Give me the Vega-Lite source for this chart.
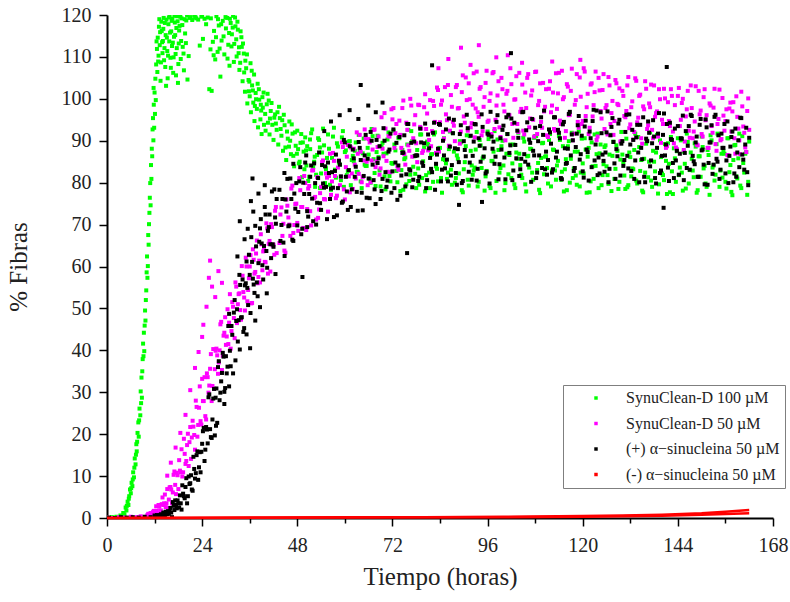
{
  "$schema": "https://vega.github.io/schema/vega-lite/v6.json",
  "width": 666,
  "height": 503,
  "autosize": {"type": "none"},
  "padding": {"left": 107, "top": 15, "right": 17, "bottom": 84},
  "config": {"view": {"stroke": null}, "font": "Liberation Serif"},
  "datasets": {
    "pts": [
      {"s":"g","t":0.0,"y":0.1},{"s":"g","t":0.6,"y":0.0},{"s":"g","t":1.2,"y":0.2},{"s":"g","t":1.8,"y":0.1},{"s":"g","t":2.4,"y":0.3},{"s":"g","t":3.0,"y":0.2},{"s":"g","t":3.4,"y":0.6},{"s":"g","t":3.8,"y":0.4},{"s":"g","t":4.1,"y":1.2},{"s":"g","t":4.4,"y":0.9},
      {"s":"g","t":4.7,"y":2.5},{"s":"g","t":4.9,"y":1.8},{"s":"g","t":5.2,"y":3.9},{"s":"g","t":5.4,"y":3.1},{"s":"g","t":5.6,"y":5.2},{"s":"g","t":5.8,"y":6.8},{"s":"g","t":6.0,"y":5.9},{"s":"g","t":6.2,"y":8.4},{"s":"g","t":6.4,"y":7.6},{"s":"g","t":6.6,"y":10.9},
      {"s":"g","t":6.8,"y":9.7},{"s":"g","t":7.0,"y":14.2},{"s":"g","t":7.2,"y":12.8},{"s":"g","t":7.4,"y":17.6},{"s":"g","t":7.5,"y":15.9},{"s":"g","t":7.7,"y":20.3},{"s":"g","t":7.9,"y":22.8},{"s":"g","t":8.0,"y":19.4},{"s":"g","t":8.2,"y":26.1},{"s":"g","t":8.4,"y":24.5},
      {"s":"g","t":8.5,"y":30.2},{"s":"g","t":8.7,"y":33.5},{"s":"g","t":8.8,"y":28.7},{"s":"g","t":9.0,"y":37.9},{"s":"g","t":9.1,"y":41.6},{"s":"g","t":9.3,"y":44.2},{"s":"g","t":9.4,"y":39.8},{"s":"g","t":9.6,"y":49.5},{"s":"g","t":9.7,"y":47.1},{"s":"g","t":9.9,"y":54.3},
      {"s":"g","t":10.0,"y":58.6},{"s":"g","t":10.1,"y":62.4},{"s":"g","t":10.3,"y":60.1},{"s":"g","t":10.4,"y":67.5},{"s":"g","t":10.5,"y":65.2},{"s":"g","t":10.7,"y":72.8},{"s":"g","t":10.8,"y":76.4},{"s":"g","t":10.9,"y":79.9},{"s":"g","t":11.0,"y":74.6},{"s":"g","t":11.1,"y":84.2},
      {"s":"g","t":11.3,"y":88.1},{"s":"g","t":11.4,"y":86.3},{"s":"g","t":11.5,"y":92.7},{"s":"g","t":11.6,"y":95.4},{"s":"g","t":11.8,"y":98.6},{"s":"g","t":11.9,"y":93.1},{"s":"g","t":12.0,"y":101.5},{"s":"g","t":12.2,"y":104.8},{"s":"g","t":12.3,"y":99.7},{"s":"g","t":12.4,"y":108.2},
      {"s":"g","t":12.6,"y":111.9},{"s":"g","t":12.7,"y":106.4},{"s":"g","t":12.8,"y":114.6},{"s":"g","t":13.0,"y":110.3},{"s":"g","t":13.1,"y":117.2},{"s":"g","t":13.3,"y":112.8},{"s":"g","t":13.4,"y":115.9},{"s":"g","t":13.6,"y":108.7},{"s":"g","t":13.7,"y":118.4},{"s":"g","t":13.9,"y":113.5},
      {"s":"g","t":14.0,"y":110.9},{"s":"g","t":14.2,"y":116.7},{"s":"g","t":14.3,"y":119.3},{"s":"g","t":14.5,"y":112.1},{"s":"g","t":14.7,"y":107.6},{"s":"g","t":14.8,"y":115.2},{"s":"g","t":15.0,"y":118.9},{"s":"g","t":15.2,"y":111.4},{"s":"g","t":15.3,"y":104.9},{"s":"g","t":15.5,"y":117.8},
      {"s":"g","t":15.7,"y":113.7},{"s":"g","t":15.8,"y":119.6},{"s":"g","t":16.0,"y":109.8},{"s":"g","t":16.2,"y":116.1},{"s":"g","t":16.4,"y":112.6},{"s":"g","t":16.5,"y":119.1},{"s":"g","t":16.7,"y":106.2},{"s":"g","t":16.9,"y":114.8},{"s":"g","t":17.1,"y":118.2},{"s":"g","t":17.3,"y":110.7},
      {"s":"g","t":17.5,"y":116.9},{"s":"g","t":17.7,"y":119.7},{"s":"g","t":17.9,"y":103.8},{"s":"g","t":18.1,"y":113.2},{"s":"g","t":18.3,"y":117.4},{"s":"g","t":18.6,"y":109.5},{"s":"g","t":18.8,"y":119.2},{"s":"g","t":19.1,"y":112.4},{"s":"g","t":19.4,"y":106.8},{"s":"g","t":19.7,"y":115.6},
      {"s":"g","t":20.0,"y":118.7},{"s":"g","t":20.3,"y":104.6},{"s":"g","t":20.6,"y":110.2},{"s":"g","t":21.0,"y":119.5},{"s":"g","t":21.5,"y":118.8},{"s":"g","t":22.0,"y":119.8},{"s":"g","t":22.5,"y":119.2},{"s":"g","t":23.0,"y":118.9},{"s":"g","t":23.4,"y":112.7},{"s":"g","t":23.8,"y":119.6},
      {"s":"g","t":24.2,"y":114.3},{"s":"g","t":24.6,"y":119.1},{"s":"g","t":25.0,"y":117.8},{"s":"g","t":25.4,"y":119.4},{"s":"g","t":25.8,"y":102.3},{"s":"g","t":26.1,"y":111.8},{"s":"g","t":26.4,"y":101.9},{"s":"g","t":26.7,"y":113.6},{"s":"g","t":27.0,"y":116.2},{"s":"g","t":27.3,"y":109.4},
      {"s":"g","t":27.6,"y":119.7},{"s":"g","t":27.9,"y":111.2},{"s":"g","t":28.2,"y":117.5},{"s":"g","t":28.6,"y":105.3},{"s":"g","t":28.9,"y":113.9},{"s":"g","t":29.2,"y":118.6},{"s":"g","t":29.6,"y":110.6},{"s":"g","t":30.0,"y":116.8},{"s":"g","t":30.3,"y":119.3},{"s":"g","t":30.6,"y":112.9},
      {"s":"g","t":30.9,"y":107.9},{"s":"g","t":31.2,"y":118.1},{"s":"g","t":31.5,"y":115.4},{"s":"g","t":31.8,"y":119.8},{"s":"g","t":32.1,"y":113.1},{"s":"g","t":32.4,"y":117.3},{"s":"g","t":32.7,"y":110.1},{"s":"g","t":33.0,"y":116.5},{"s":"g","t":33.3,"y":112.3},{"s":"g","t":33.6,"y":108.6},
      {"s":"g","t":33.9,"y":114.7},{"s":"g","t":34.2,"y":104.2},{"s":"g","t":34.5,"y":110.8},{"s":"g","t":34.8,"y":101.7},{"s":"g","t":35.1,"y":107.3},{"s":"g","t":35.4,"y":98.9},{"s":"g","t":35.7,"y":104.5},{"s":"g","t":36.0,"y":100.6},{"s":"g","t":36.3,"y":96.8},{"s":"g","t":36.6,"y":103.2},
      {"s":"g","t":36.9,"y":99.1},{"s":"g","t":37.2,"y":94.7},{"s":"g","t":37.5,"y":101.4},{"s":"g","t":37.8,"y":97.6},{"s":"g","t":38.1,"y":93.2},{"s":"g","t":38.4,"y":99.8},{"s":"g","t":38.7,"y":95.1},{"s":"g","t":39.0,"y":91.6},{"s":"g","t":39.3,"y":97.9},{"s":"g","t":39.6,"y":93.8},
      {"s":"g","t":40.0,"y":92.4},{"s":"g","t":40.3,"y":98.7},{"s":"g","t":40.6,"y":94.3},{"s":"g","t":41.0,"y":91.5},{"s":"g","t":41.3,"y":97.1},{"s":"g","t":41.7,"y":93.8},{"s":"g","t":42.0,"y":90.2},{"s":"g","t":42.4,"y":96.3},{"s":"g","t":42.8,"y":92.6},{"s":"g","t":43.2,"y":89.1},
      {"s":"g","t":43.6,"y":95.4},{"s":"g","t":44.0,"y":91.2},{"s":"g","t":44.4,"y":87.6},{"s":"g","t":44.8,"y":93.7},{"s":"g","t":45.2,"y":85.4},{"s":"g","t":45.6,"y":90.5},{"s":"g","t":46.0,"y":94.6},{"s":"g","t":46.4,"y":86.8},{"s":"g","t":46.8,"y":91.7},{"s":"g","t":47.2,"y":83.9},
      {"s":"g","t":47.6,"y":88.8},{"s":"g","t":48.0,"y":92.4},{"s":"g","t":48.4,"y":84.6},{"s":"g","t":48.8,"y":89.5},{"s":"g","t":49.2,"y":81.3},{"s":"g","t":49.6,"y":87.4},{"s":"g","t":50.0,"y":90.8},
      {"s":"g","t":33.4,"y":106.9},{"s":"g","t":34.0,"y":112.4},{"s":"g","t":34.9,"y":109.1},{"s":"g","t":35.8,"y":101.8},{"s":"g","t":36.5,"y":106.7},{"s":"g","t":37.3,"y":98.3},{"s":"g","t":38.0,"y":103.6},{"s":"g","t":38.9,"y":97.2},{"s":"g","t":39.5,"y":101.5},{"s":"g","t":40.8,"y":99.6},
      {"s":"g","t":42.2,"y":95.5},{"s":"g","t":43.4,"y":98.1},{"s":"g","t":44.6,"y":96.2},{"s":"g","t":45.9,"y":88.6},{"s":"g","t":46.6,"y":93.9},{"s":"g","t":47.9,"y":86.9},{"s":"g","t":49.0,"y":91.6},{"s":"g","t":50.3,"y":84.1},{"s":"g","t":51.2,"y":90.3},{"s":"g","t":52.4,"y":86.2},
      {"s":"g","t":53.7,"y":88.4},{"s":"g","t":55.2,"y":83.6},
      {"s":"g","t":4.3,"y":0.6},{"s":"g","t":5.0,"y":2.9},{"s":"g","t":5.5,"y":4.6},{"s":"g","t":6.1,"y":7.1},{"s":"g","t":6.5,"y":9.2},{"s":"g","t":6.9,"y":12.0},{"s":"g","t":7.3,"y":15.1},{"s":"g","t":7.6,"y":18.2},{"s":"g","t":8.1,"y":23.3},{"s":"g","t":8.6,"y":27.4},
      {"s":"g","t":8.9,"y":35.0},{"s":"g","t":9.2,"y":38.6},{"s":"g","t":9.5,"y":45.9},{"s":"g","t":9.8,"y":52.0},{"s":"g","t":10.2,"y":57.3},{"s":"g","t":10.6,"y":70.1},{"s":"g","t":11.2,"y":80.9},{"s":"g","t":11.7,"y":90.1},{"s":"g","t":11.75,"y":102.6},{"s":"g","t":12.1,"y":96.4},
      {"s":"g","t":12.5,"y":113.7},{"s":"g","t":12.9,"y":108.9},{"s":"g","t":13.2,"y":119.0},{"s":"g","t":13.5,"y":104.3},{"s":"g","t":13.8,"y":116.2},{"s":"g","t":14.1,"y":113.8},{"s":"g","t":14.4,"y":109.2},{"s":"g","t":14.6,"y":118.1},{"s":"g","t":14.9,"y":103.1},{"s":"g","t":15.1,"y":114.6},
      {"s":"g","t":15.4,"y":110.3},{"s":"g","t":15.6,"y":119.4},{"s":"g","t":15.9,"y":115.8},{"s":"g","t":16.1,"y":107.4},{"s":"g","t":16.3,"y":118.6},{"s":"g","t":16.6,"y":113.4},{"s":"g","t":16.8,"y":109.9},{"s":"g","t":17.0,"y":119.8},{"s":"g","t":17.2,"y":115.2},{"s":"g","t":17.4,"y":105.6},
      {"s":"g","t":17.6,"y":112.1},{"s":"g","t":17.8,"y":118.5},{"s":"g","t":18.0,"y":108.3},{"s":"g","t":18.2,"y":116.3},{"s":"g","t":18.5,"y":119.6},{"s":"g","t":18.7,"y":113.8},{"s":"g","t":19.0,"y":117.6},{"s":"g","t":19.3,"y":110.8},{"s":"g","t":19.6,"y":119.0},{"s":"g","t":19.9,"y":113.3},
      {"s":"g","t":20.2,"y":119.9},{"s":"g","t":20.8,"y":119.3},{"s":"g","t":22.3,"y":119.5},{"s":"g","t":24.0,"y":119.8},{"s":"g","t":26.2,"y":119.2},{"s":"g","t":26.9,"y":110.4},{"s":"g","t":27.5,"y":114.7},{"s":"g","t":28.0,"y":119.0},{"s":"g","t":28.4,"y":112.0},{"s":"g","t":28.8,"y":117.8},
      {"s":"g","t":29.4,"y":114.9},{"s":"g","t":29.9,"y":119.5},{"s":"g","t":30.4,"y":109.6},{"s":"g","t":30.8,"y":115.7},{"s":"g","t":31.0,"y":119.1},{"s":"g","t":31.4,"y":112.5},{"s":"g","t":31.7,"y":117.0},{"s":"g","t":32.0,"y":108.8},{"s":"g","t":32.3,"y":119.4},{"s":"g","t":32.6,"y":114.2},
      {"s":"g","t":32.9,"y":118.4},{"s":"g","t":33.2,"y":110.9},{"s":"g","t":33.7,"y":116.1},{"s":"g","t":34.3,"y":113.2},{"s":"g","t":34.6,"y":106.3},{"s":"g","t":35.3,"y":110.6},{"s":"g","t":35.9,"y":104.1},{"s":"g","t":36.2,"y":108.5},{"s":"g","t":36.8,"y":102.0},{"s":"g","t":37.1,"y":105.8},
      {"s":"g","t":37.6,"y":99.9},{"s":"g","t":38.3,"y":102.3},{"s":"g","t":38.8,"y":98.6},{"s":"g","t":39.2,"y":100.4},{"s":"g","t":39.9,"y":96.4},{"s":"g","t":40.5,"y":101.2},{"s":"g","t":41.1,"y":95.3},{"s":"g","t":41.5,"y":99.0},{"s":"g","t":42.6,"y":94.1},{"s":"g","t":43.0,"y":96.8},
      {"s":"g","t":43.8,"y":92.8},{"s":"g","t":44.2,"y":94.9},{"s":"g","t":45.0,"y":88.4},{"s":"g","t":45.4,"y":92.2},{"s":"g","t":46.2,"y":90.0},{"s":"g","t":47.0,"y":86.4},{"s":"g","t":47.4,"y":92.0},{"s":"g","t":48.2,"y":88.0},{"s":"g","t":48.6,"y":85.0},{"s":"g","t":49.4,"y":89.6},
      {"s":"g","t":49.8,"y":83.2},{"s":"g","t":50.2,"y":87.7},
      {"s":"g","t":50.5,"y":88.7},{"s":"g","t":51,"y":81.4},{"s":"g","t":51.5,"y":91.8},{"s":"g","t":52,"y":83.7},{"s":"g","t":52.5,"y":79.0},{"s":"g","t":53,"y":86.6},{"s":"g","t":53.5,"y":90.2},{"s":"g","t":54,"y":82.2},{"s":"g","t":54.5,"y":92.9},{"s":"g","t":55,"y":79.9},
      {"s":"g","t":55.5,"y":85.9},{"s":"g","t":56,"y":88.1},{"s":"g","t":56.5,"y":78.3},{"s":"g","t":57,"y":91.0},{"s":"g","t":57.5,"y":83.1},{"s":"g","t":58,"y":89.4},{"s":"g","t":58.5,"y":84.8},{"s":"g","t":59,"y":80.6},{"s":"g","t":59.5,"y":92.3},{"s":"g","t":60,"y":87.3},
      {"s":"g","t":60.5,"y":81.8},{"s":"g","t":61,"y":89.8},{"s":"g","t":61.5,"y":79.4},{"s":"g","t":62,"y":86.4},{"s":"g","t":62.5,"y":87.6},{"s":"g","t":63,"y":82.6},{"s":"g","t":63.5,"y":91.4},{"s":"g","t":64,"y":80.3},{"s":"g","t":64.5,"y":87.0},{"s":"g","t":65,"y":84.3},
      {"s":"g","t":65.5,"y":84.0},{"s":"g","t":66,"y":86.7},{"s":"g","t":66.5,"y":80.0},{"s":"g","t":67,"y":91.1},{"s":"g","t":67.5,"y":82.3},{"s":"g","t":68,"y":87.3},{"s":"g","t":68.5,"y":86.1},{"s":"g","t":69,"y":79.1},{"s":"g","t":69.5,"y":89.5},{"s":"g","t":70,"y":81.5},
      {"s":"g","t":70.5,"y":87.0},{"s":"g","t":71,"y":92.0},{"s":"g","t":71.5,"y":80.3},{"s":"g","t":72,"y":84.5},{"s":"g","t":72.5,"y":89.1},{"s":"g","t":73,"y":82.8},{"s":"g","t":73.5,"y":90.7},{"s":"g","t":74,"y":78.0},{"s":"g","t":74.5,"y":87.8},{"s":"g","t":75,"y":85.6},
      {"s":"g","t":75.5,"y":79.6},{"s":"g","t":76,"y":92.6},{"s":"g","t":76.5,"y":81.9},{"s":"g","t":77,"y":89.9},{"s":"g","t":77.5,"y":86.3},{"s":"g","t":78,"y":78.7},{"s":"g","t":78.5,"y":83.4},{"s":"g","t":79,"y":91.5},{"s":"g","t":79.5,"y":81.1},{"s":"g","t":80,"y":88.4},
      {"s":"g","t":80.5,"y":81.8},{"s":"g","t":81,"y":89.1},{"s":"g","t":81.5,"y":78.7},{"s":"g","t":82,"y":86.8},{"s":"g","t":82.5,"y":91.5},{"s":"g","t":83,"y":83.9},{"s":"g","t":83.5,"y":80.3},{"s":"g","t":84,"y":88.3},{"s":"g","t":84.5,"y":77.6},{"s":"g","t":85,"y":90.6},
      {"s":"g","t":85.5,"y":84.6},{"s":"g","t":86,"y":82.4},{"s":"g","t":86.5,"y":92.2},{"s":"g","t":87,"y":79.5},{"s":"g","t":87.5,"y":87.4},{"s":"g","t":88,"y":81.1},{"s":"g","t":88.5,"y":85.7},{"s":"g","t":89,"y":89.9},{"s":"g","t":89.5,"y":78.2},{"s":"g","t":90,"y":83.2},
      {"s":"g","t":90.5,"y":88.7},{"s":"g","t":91,"y":80.7},{"s":"g","t":91.5,"y":91.1},{"s":"g","t":92,"y":84.1},{"s":"g","t":92.5,"y":82.9},{"s":"g","t":93,"y":87.9},{"s":"g","t":93.5,"y":79.1},{"s":"g","t":94,"y":90.2},{"s":"g","t":94.5,"y":83.5},{"s":"g","t":95,"y":86.2},
      {"s":"g","t":95.5,"y":81.5},{"s":"g","t":96,"y":92.2},{"s":"g","t":96.5,"y":79.2},{"s":"g","t":97,"y":85.2},{"s":"g","t":97.5,"y":87.4},{"s":"g","t":98,"y":77.6},{"s":"g","t":98.5,"y":90.3},{"s":"g","t":99,"y":82.4},{"s":"g","t":99.5,"y":88.7},{"s":"g","t":100,"y":84.1},
      {"s":"g","t":100.5,"y":79.9},{"s":"g","t":101,"y":91.6},{"s":"g","t":101.5,"y":86.6},{"s":"g","t":102,"y":81.1},{"s":"g","t":102.5,"y":89.1},{"s":"g","t":103,"y":78.7},{"s":"g","t":103.5,"y":85.7},{"s":"g","t":104,"y":86.9},{"s":"g","t":104.5,"y":81.9},{"s":"g","t":105,"y":90.7},
      {"s":"g","t":105.5,"y":79.6},{"s":"g","t":106,"y":86.3},{"s":"g","t":106.5,"y":83.6},{"s":"g","t":107,"y":88.0},{"s":"g","t":107.5,"y":80.7},{"s":"g","t":108,"y":91.1},{"s":"g","t":108.5,"y":83.0},{"s":"g","t":109,"y":78.3},{"s":"g","t":109.5,"y":85.9},{"s":"g","t":110,"y":89.5},
      {"s":"g","t":110.5,"y":86.2},{"s":"g","t":111,"y":83.5},{"s":"g","t":111.5,"y":90.2},{"s":"g","t":112,"y":79.1},{"s":"g","t":112.5,"y":87.9},{"s":"g","t":113,"y":82.9},{"s":"g","t":113.5,"y":84.1},{"s":"g","t":114,"y":91.1},{"s":"g","t":114.5,"y":80.7},{"s":"g","t":115,"y":88.7},
      {"s":"g","t":115.5,"y":83.2},{"s":"g","t":116,"y":78.2},{"s":"g","t":116.5,"y":89.9},{"s":"g","t":117,"y":85.7},{"s":"g","t":117.5,"y":81.1},{"s":"g","t":118,"y":87.4},{"s":"g","t":118.5,"y":79.5},{"s":"g","t":119,"y":92.2},{"s":"g","t":119.5,"y":82.4},{"s":"g","t":120,"y":84.6},
      {"s":"g","t":120.5,"y":90.6},{"s":"g","t":121,"y":77.6},{"s":"g","t":121.5,"y":88.3},{"s":"g","t":122,"y":80.3},{"s":"g","t":122.5,"y":83.9},{"s":"g","t":123,"y":91.5},{"s":"g","t":123.5,"y":86.8},{"s":"g","t":124,"y":78.7},{"s":"g","t":124.5,"y":89.1},{"s":"g","t":125,"y":81.8},
      {"s":"g","t":125.5,"y":88.5},{"s":"g","t":126,"y":83.9},{"s":"g","t":126.5,"y":79.7},{"s":"g","t":127,"y":91.4},{"s":"g","t":127.5,"y":86.4},{"s":"g","t":128,"y":80.9},{"s":"g","t":128.5,"y":88.9},{"s":"g","t":129,"y":78.5},{"s":"g","t":129.5,"y":85.5},{"s":"g","t":130,"y":86.7},
      {"s":"g","t":130.5,"y":81.7},{"s":"g","t":131,"y":90.5},{"s":"g","t":131.5,"y":79.4},{"s":"g","t":132,"y":86.1},{"s":"g","t":132.5,"y":83.4},{"s":"g","t":133,"y":87.8},{"s":"g","t":133.5,"y":80.5},{"s":"g","t":134,"y":90.9},{"s":"g","t":134.5,"y":82.8},{"s":"g","t":135,"y":78.1},
      {"s":"g","t":135.5,"y":85.7},{"s":"g","t":136,"y":89.3},{"s":"g","t":136.5,"y":81.3},{"s":"g","t":137,"y":92.0},{"s":"g","t":137.5,"y":79.0},{"s":"g","t":138,"y":85.0},{"s":"g","t":138.5,"y":87.2},{"s":"g","t":139,"y":77.4},{"s":"g","t":139.5,"y":90.1},{"s":"g","t":140,"y":82.2},
      {"s":"g","t":140.5,"y":80.6},{"s":"g","t":141,"y":85.2},{"s":"g","t":141.5,"y":89.4},{"s":"g","t":142,"y":77.7},{"s":"g","t":142.5,"y":82.7},{"s":"g","t":143,"y":88.2},{"s":"g","t":143.5,"y":80.2},{"s":"g","t":144,"y":90.6},{"s":"g","t":144.5,"y":83.6},{"s":"g","t":145,"y":82.4},
      {"s":"g","t":145.5,"y":87.4},{"s":"g","t":146,"y":78.6},{"s":"g","t":146.5,"y":89.7},{"s":"g","t":147,"y":83.0},{"s":"g","t":147.5,"y":85.7},{"s":"g","t":148,"y":81.3},{"s":"g","t":148.5,"y":88.6},{"s":"g","t":149,"y":78.2},{"s":"g","t":149.5,"y":86.3},{"s":"g","t":150,"y":91.0},
      {"s":"g","t":150.5,"y":83.4},{"s":"g","t":151,"y":79.8},{"s":"g","t":151.5,"y":87.8},{"s":"g","t":152,"y":77.1},{"s":"g","t":152.5,"y":90.1},{"s":"g","t":153,"y":84.1},{"s":"g","t":153.5,"y":81.9},{"s":"g","t":154,"y":91.7},{"s":"g","t":154.5,"y":79.0},{"s":"g","t":155,"y":86.9},
      {"s":"g","t":155.5,"y":87.5},{"s":"g","t":156,"y":80.2},{"s":"g","t":156.5,"y":90.6},{"s":"g","t":157,"y":82.5},{"s":"g","t":157.5,"y":77.8},{"s":"g","t":158,"y":85.4},{"s":"g","t":158.5,"y":89.0},{"s":"g","t":159,"y":81.0},{"s":"g","t":159.5,"y":91.7},{"s":"g","t":160,"y":78.7},
      {"s":"g","t":160.5,"y":84.7},{"s":"g","t":161,"y":86.9},{"s":"g","t":161.5,"y":77.1},{"s":"g","t":162,"y":89.8},
      {"s":"g","t":50.75,"y":80.4},{"s":"g","t":51.25,"y":88.0},{"s":"g","t":51.75,"y":92.7},{"s":"g","t":52.25,"y":85.0},{"s":"g","t":52.75,"y":81.9},{"s":"g","t":53.25,"y":90.6},{"s":"g","t":53.75,"y":78.7},{"s":"g","t":54.25,"y":87.2},{"s":"g","t":54.75,"y":88.9},{"s":"g","t":55.25,"y":83.2},
      {"s":"g","t":55.75,"y":91.5},{"s":"g","t":56.25,"y":79.5},{"s":"g","t":56.75,"y":85.9},{"s":"g","t":57.25,"y":93.1},{"s":"g","t":57.75,"y":81.2},{"s":"g","t":58.25,"y":88.6},{"s":"g","t":58.75,"y":84.3},{"s":"g","t":59.25,"y":90.8},{"s":"g","t":59.75,"y":79.0},{"s":"g","t":60.25,"y":87.7},
      {"s":"g","t":60.75,"y":82.8},{"s":"g","t":61.25,"y":89.9},{"s":"g","t":61.75,"y":85.4},{"s":"g","t":62.25,"y":85.1},{"s":"g","t":62.75,"y":89.6},{"s":"g","t":63.25,"y":82.5},{"s":"g","t":63.75,"y":87.4},{"s":"g","t":64.25,"y":78.7},{"s":"g","t":64.75,"y":90.5},{"s":"g","t":65.25,"y":84.0},
      {"s":"g","t":65.75,"y":88.3},{"s":"g","t":66.25,"y":80.9},{"s":"g","t":66.75,"y":92.8},{"s":"g","t":67.25,"y":85.6},{"s":"g","t":67.75,"y":79.2},{"s":"g","t":68.25,"y":91.2},{"s":"g","t":68.75,"y":82.9},{"s":"g","t":69.25,"y":88.6},{"s":"g","t":69.75,"y":86.9},{"s":"g","t":70.25,"y":78.4},
      {"s":"g","t":70.75,"y":90.3},{"s":"g","t":71.25,"y":81.6},{"s":"g","t":71.75,"y":84.7},{"s":"g","t":72.25,"y":92.4},{"s":"g","t":72.75,"y":87.7},{"s":"g","t":73.25,"y":80.1},{"s":"g","t":73.75,"y":90.6},{"s":"g","t":74.25,"y":83.0},{"s":"g","t":74.75,"y":78.3},{"s":"g","t":75.25,"y":86.0},
      {"s":"g","t":75.75,"y":89.1},{"s":"g","t":76.25,"y":80.4},{"s":"g","t":76.75,"y":92.3},{"s":"g","t":77.25,"y":83.8},{"s":"g","t":77.75,"y":82.1},{"s":"g","t":78.25,"y":87.8},{"s":"g","t":78.75,"y":79.5},{"s":"g","t":79.25,"y":91.5},{"s":"g","t":79.75,"y":85.1},{"s":"g","t":80.25,"y":77.9},
      {"s":"g","t":80.75,"y":89.8},{"s":"g","t":81.25,"y":82.4},{"s":"g","t":81.75,"y":86.7},{"s":"g","t":82.25,"y":80.2},{"s":"g","t":82.75,"y":92.0},{"s":"g","t":83.25,"y":83.3},{"s":"g","t":83.75,"y":88.2},{"s":"g","t":84.25,"y":81.1},{"s":"g","t":84.75,"y":85.6},{"s":"g","t":85.25,"y":85.4},
      {"s":"g","t":85.75,"y":80.9},{"s":"g","t":86.25,"y":88.0},{"s":"g","t":86.75,"y":83.1},{"s":"g","t":87.25,"y":91.8},{"s":"g","t":87.75,"y":80.0},{"s":"g","t":88.25,"y":86.5},{"s":"g","t":88.75,"y":82.2},{"s":"g","t":89.25,"y":89.6},{"s":"g","t":89.75,"y":77.7},{"s":"g","t":90.25,"y":84.9},
      {"s":"g","t":90.75,"y":91.3},{"s":"g","t":91.25,"y":79.3},{"s":"g","t":91.75,"y":87.6},{"s":"g","t":92.25,"y":81.9},{"s":"g","t":92.75,"y":83.6},{"s":"g","t":93.25,"y":92.1},{"s":"g","t":93.75,"y":80.2},{"s":"g","t":94.25,"y":88.9},{"s":"g","t":94.75,"y":85.8},{"s":"g","t":95.25,"y":78.1},
      {"s":"g","t":95.75,"y":82.8},{"s":"g","t":96.25,"y":90.4},{"s":"g","t":96.75,"y":78.7},{"s":"g","t":97.25,"y":85.1},{"s":"g","t":97.75,"y":92.3},{"s":"g","t":98.25,"y":80.4},{"s":"g","t":98.75,"y":87.8},{"s":"g","t":99.25,"y":83.5},{"s":"g","t":99.75,"y":90.0},{"s":"g","t":100.25,"y":78.2},
      {"s":"g","t":100.75,"y":86.9},{"s":"g","t":101.25,"y":82.0},{"s":"g","t":101.75,"y":89.1},{"s":"g","t":102.25,"y":84.6},{"s":"g","t":102.75,"y":79.6},{"s":"g","t":103.25,"y":87.2},{"s":"g","t":103.75,"y":91.9},{"s":"g","t":104.25,"y":84.2},{"s":"g","t":104.75,"y":81.1},{"s":"g","t":105.25,"y":89.8},
      {"s":"g","t":105.75,"y":77.9},{"s":"g","t":106.25,"y":86.4},{"s":"g","t":106.75,"y":88.1},{"s":"g","t":107.25,"y":82.4},{"s":"g","t":107.75,"y":90.7},{"s":"g","t":108.25,"y":91.1},{"s":"g","t":108.75,"y":84.7},{"s":"g","t":109.25,"y":77.5},{"s":"g","t":109.75,"y":89.4},{"s":"g","t":110.25,"y":82.0},
      {"s":"g","t":110.75,"y":86.3},{"s":"g","t":111.25,"y":79.8},{"s":"g","t":111.75,"y":91.6},{"s":"g","t":112.25,"y":82.9},{"s":"g","t":112.75,"y":87.8},{"s":"g","t":113.25,"y":80.7},{"s":"g","t":113.75,"y":85.2},{"s":"g","t":114.25,"y":90.2},{"s":"g","t":114.75,"y":82.6},{"s":"g","t":115.25,"y":77.9},
      {"s":"g","t":115.75,"y":85.6},{"s":"g","t":116.25,"y":88.7},{"s":"g","t":116.75,"y":80.0},{"s":"g","t":117.25,"y":91.9},{"s":"g","t":117.75,"y":83.4},{"s":"g","t":118.25,"y":81.7},{"s":"g","t":118.75,"y":87.4},{"s":"g","t":119.25,"y":79.1},{"s":"g","t":119.75,"y":90.5},{"s":"g","t":120.25,"y":82.2},
      {"s":"g","t":120.75,"y":87.9},{"s":"g","t":121.25,"y":86.2},{"s":"g","t":121.75,"y":77.7},{"s":"g","t":122.25,"y":89.6},{"s":"g","t":122.75,"y":80.9},{"s":"g","t":123.25,"y":84.0},{"s":"g","t":123.75,"y":91.7},{"s":"g","t":124.25,"y":87.0},{"s":"g","t":124.75,"y":79.4},{"s":"g","t":125.25,"y":84.4},
      {"s":"g","t":125.75,"y":88.9},{"s":"g","t":126.25,"y":81.8},{"s":"g","t":126.75,"y":86.7},{"s":"g","t":127.25,"y":78.0},{"s":"g","t":127.75,"y":89.8},{"s":"g","t":128.25,"y":83.3},{"s":"g","t":128.75,"y":87.6},{"s":"g","t":129.25,"y":80.2},{"s":"g","t":129.75,"y":92.1},{"s":"g","t":130.25,"y":84.9},
      {"s":"g","t":130.75,"y":78.5},{"s":"g","t":131.25,"y":78.9},{"s":"g","t":131.75,"y":87.2},{"s":"g","t":132.25,"y":81.5},{"s":"g","t":132.75,"y":83.2},{"s":"g","t":133.25,"y":91.7},{"s":"g","t":133.75,"y":79.8},{"s":"g","t":134.25,"y":88.5},{"s":"g","t":134.75,"y":85.4},{"s":"g","t":135.25,"y":77.7},
      {"s":"g","t":135.75,"y":82.4},{"s":"g","t":136.25,"y":90.0},{"s":"g","t":136.75,"y":85.0},{"s":"g","t":137.25,"y":80.5},{"s":"g","t":137.75,"y":87.6},{"s":"g","t":138.25,"y":82.7},{"s":"g","t":138.75,"y":91.4},{"s":"g","t":139.25,"y":79.6},{"s":"g","t":139.75,"y":86.1},{"s":"g","t":140.25,"y":81.8},
      {"s":"g","t":140.75,"y":89.2},{"s":"g","t":141.25,"y":77.3},{"s":"g","t":141.75,"y":84.5},{"s":"g","t":142.25,"y":90.9},{"s":"g","t":142.75,"y":77.3},{"s":"g","t":143.25,"y":85.8},{"s":"g","t":143.75,"y":87.5},{"s":"g","t":144.25,"y":81.8},{"s":"g","t":144.75,"y":90.1},{"s":"g","t":145.25,"y":78.1},
      {"s":"g","t":145.75,"y":84.5},{"s":"g","t":146.25,"y":91.7},{"s":"g","t":146.75,"y":79.8},{"s":"g","t":147.25,"y":87.2},{"s":"g","t":147.75,"y":82.9},{"s":"g","t":148.25,"y":89.4},{"s":"g","t":148.75,"y":77.6},{"s":"g","t":149.25,"y":86.3},{"s":"g","t":149.75,"y":81.4},{"s":"g","t":150.25,"y":88.5},
      {"s":"g","t":150.75,"y":84.0},{"s":"g","t":151.25,"y":79.0},{"s":"g","t":151.75,"y":86.6},{"s":"g","t":152.25,"y":91.3},{"s":"g","t":152.75,"y":83.6},{"s":"g","t":153.25,"y":80.5},{"s":"g","t":153.75,"y":89.2},{"s":"g","t":154.25,"y":91.4},{"s":"g","t":154.75,"y":82.9},{"s":"g","t":155.25,"y":81.2},
      {"s":"g","t":155.75,"y":86.9},{"s":"g","t":156.25,"y":78.6},{"s":"g","t":156.75,"y":90.6},{"s":"g","t":157.25,"y":84.2},{"s":"g","t":157.75,"y":77.0},{"s":"g","t":158.25,"y":88.9},{"s":"g","t":158.75,"y":81.5},{"s":"g","t":159.25,"y":85.8},{"s":"g","t":159.75,"y":79.3},{"s":"g","t":160.25,"y":91.1},
      {"s":"g","t":160.75,"y":82.4},{"s":"g","t":161.25,"y":87.3},{"s":"g","t":161.75,"y":80.2},

      {"s":"m","t":0.0,"y":0.1},{"s":"m","t":1.5,"y":0.0},{"s":"m","t":3.0,"y":0.2},{"s":"m","t":4.5,"y":0.1},{"s":"m","t":6.0,"y":0.3},{"s":"m","t":7.5,"y":0.2},{"s":"m","t":8.5,"y":0.4},
      {"s":"m","t":10.0,"y":0.3},{"s":"m","t":10.4,"y":1.0},{"s":"m","t":10.8,"y":0.8},{"s":"m","t":11.2,"y":0.4},{"s":"m","t":11.6,"y":1.4},{"s":"m","t":12.0,"y":1.1},{"s":"m","t":12.4,"y":2.8},{"s":"m","t":12.8,"y":0.9},{"s":"m","t":13.2,"y":2.7},{"s":"m","t":13.6,"y":1.8},
      {"s":"m","t":14.0,"y":4.9},{"s":"m","t":14.4,"y":3.5},{"s":"m","t":14.8,"y":2.6},{"s":"m","t":15.2,"y":6.9},{"s":"m","t":15.6,"y":4.4},{"s":"m","t":16.0,"y":7.4},{"s":"m","t":16.4,"y":3.5},{"s":"m","t":16.8,"y":10.3},{"s":"m","t":17.2,"y":7.9},{"s":"m","t":17.6,"y":10.8},
      {"s":"m","t":18.0,"y":6.9},{"s":"m","t":18.4,"y":11.3},{"s":"m","t":18.8,"y":16.4},{"s":"m","t":19.2,"y":10.9},{"s":"m","t":19.6,"y":15.3},{"s":"m","t":20.0,"y":13.6},{"s":"m","t":20.4,"y":20.1},{"s":"m","t":20.8,"y":18.1},{"s":"m","t":21.2,"y":14.1},{"s":"m","t":21.6,"y":23.2},
      {"s":"m","t":22.0,"y":19.8},{"s":"m","t":22.4,"y":28.0},{"s":"m","t":22.8,"y":19.4},{"s":"m","t":23.2,"y":26.3},{"s":"m","t":23.6,"y":23.1},{"s":"m","t":24.0,"y":33.2},{"s":"m","t":24.4,"y":27.9},{"s":"m","t":24.8,"y":24.3},{"s":"m","t":25.2,"y":34.5},{"s":"m","t":25.6,"y":29.9},
      {"s":"m","t":26.0,"y":35.6},{"s":"m","t":26.4,"y":27.9},{"s":"m","t":26.8,"y":40.3},{"s":"m","t":27.2,"y":35.5},{"s":"m","t":27.6,"y":40.4},{"s":"m","t":28.0,"y":34.4},{"s":"m","t":28.4,"y":40.0},{"s":"m","t":28.8,"y":46.8},{"s":"m","t":29.2,"y":38.7},{"s":"m","t":29.6,"y":44.2},
      {"s":"m","t":30.0,"y":41.3},{"s":"m","t":30.4,"y":49.8},{"s":"m","t":30.8,"y":46.6},{"s":"m","t":31.2,"y":40.4},{"s":"m","t":31.6,"y":51.5},{"s":"m","t":32.0,"y":47.7},{"s":"m","t":32.4,"y":56.2},{"s":"m","t":32.8,"y":46.5},{"s":"m","t":33.2,"y":53.4},{"s":"m","t":33.6,"y":49.6},
      {"s":"m","t":34.0,"y":60.1},{"s":"m","t":34.4,"y":53.9},{"s":"m","t":34.8,"y":49.5},{"s":"m","t":35.2,"y":60.0},{"s":"m","t":35.6,"y":54.4},{"s":"m","t":36.0,"y":60.0},{"s":"m","t":36.4,"y":51.2},{"s":"m","t":36.8,"y":64.1},{"s":"m","t":37.2,"y":58.3},{"s":"m","t":37.6,"y":63.1},
      {"s":"m","t":38.0,"y":56.0},{"s":"m","t":38.4,"y":61.4},{"s":"m","t":38.8,"y":67.7},{"s":"m","t":39.2,"y":59.1},{"s":"m","t":39.6,"y":64.3},{"s":"m","t":40.0,"y":61.0},{"s":"m","t":40.4,"y":69.1},{"s":"m","t":40.8,"y":65.4},{"s":"m","t":41.2,"y":58.8},{"s":"m","t":41.6,"y":69.4},
      {"s":"m","t":42.0,"y":65.2},{"s":"m","t":42.4,"y":73.3},{"s":"m","t":42.8,"y":63.2},
      {"s":"m","t":15.2,"y":10.1},{"s":"m","t":16.1,"y":13.2},{"s":"m","t":17.3,"y":16.8},{"s":"m","t":18.5,"y":20.3},{"s":"m","t":19.8,"y":24.6},{"s":"m","t":21.0,"y":30.5},{"s":"m","t":22.2,"y":35.8},{"s":"m","t":23.1,"y":39.6},{"s":"m","t":24.0,"y":43.2},{"s":"m","t":24.3,"y":46.1},
      {"s":"m","t":25.1,"y":50.4},{"s":"m","t":25.7,"y":57.3},{"s":"m","t":26.0,"y":61.4},{"s":"m","t":26.5,"y":55.2},{"s":"m","t":27.3,"y":52.7},{"s":"m","t":28.1,"y":58.9},{"s":"m","t":29.0,"y":56.1},
      {"s":"m","t":10.2,"y":0.7},{"s":"m","t":10.6,"y":0.2},{"s":"m","t":11.0,"y":1.2},{"s":"m","t":11.4,"y":0.8},{"s":"m","t":11.8,"y":1.7},{"s":"m","t":12.2,"y":1.0},{"s":"m","t":12.6,"y":1.7},{"s":"m","t":13.0,"y":3.1},{"s":"m","t":13.4,"y":0.9},{"s":"m","t":13.8,"y":3.3},
      {"s":"m","t":14.2,"y":3.1},{"s":"m","t":14.6,"y":5.6},{"s":"m","t":15.0,"y":3.5},{"s":"m","t":15.4,"y":2.4},{"s":"m","t":15.8,"y":7.3},{"s":"m","t":16.2,"y":6.8},{"s":"m","t":16.6,"y":6.1},{"s":"m","t":17.0,"y":11.1},{"s":"m","t":17.4,"y":5.7},{"s":"m","t":17.8,"y":10.2},
      {"s":"m","t":18.2,"y":13.8},{"s":"m","t":18.6,"y":10.9},{"s":"m","t":19.0,"y":9.9},{"s":"m","t":19.4,"y":18.9},{"s":"m","t":19.8,"y":12.9},{"s":"m","t":20.2,"y":17.4},{"s":"m","t":20.6,"y":12.4},{"s":"m","t":21.0,"y":21.7},{"s":"m","t":21.4,"y":19.2},{"s":"m","t":21.8,"y":21.8},
      {"s":"m","t":22.2,"y":16.3},{"s":"m","t":22.6,"y":26.5},{"s":"m","t":23.0,"y":22.2},{"s":"m","t":23.4,"y":31.4},{"s":"m","t":23.8,"y":22.3},{"s":"m","t":24.2,"y":27.9},{"s":"m","t":24.6,"y":33.6},{"s":"m","t":25.0,"y":23.5},{"s":"m","t":25.4,"y":33.6},{"s":"m","t":25.8,"y":31.6},
      {"s":"m","t":26.2,"y":39.1},{"s":"m","t":26.6,"y":31.5},{"s":"m","t":27.0,"y":30.8},{"s":"m","t":27.4,"y":39.9},{"s":"m","t":27.8,"y":38.8},{"s":"m","t":28.2,"y":37.1},{"s":"m","t":28.6,"y":46.2},{"s":"m","t":29.0,"y":35.3},{"s":"m","t":29.4,"y":43.5},{"s":"m","t":29.8,"y":47.9},
      {"s":"m","t":30.2,"y":43.3},{"s":"m","t":30.6,"y":41.5},{"s":"m","t":31.0,"y":53.4},{"s":"m","t":31.4,"y":44.6},{"s":"m","t":31.8,"y":50.4},{"s":"m","t":32.2,"y":42.9},{"s":"m","t":32.6,"y":55.2},{"s":"m","t":33.0,"y":51.0},{"s":"m","t":33.4,"y":53.6},{"s":"m","t":33.8,"y":47.3},
      {"s":"m","t":34.2,"y":57.8},{"s":"m","t":34.6,"y":52.6},{"s":"m","t":35.0,"y":62.1},{"s":"m","t":35.4,"y":51.7},{"s":"m","t":35.8,"y":57.2},{"s":"m","t":36.2,"y":62.7},{"s":"m","t":36.6,"y":51.3},{"s":"m","t":37.0,"y":61.6},{"s":"m","t":37.4,"y":58.7},{"s":"m","t":37.8,"y":66.2},
      {"s":"m","t":38.2,"y":57.5},{"s":"m","t":38.6,"y":56.2},{"s":"m","t":39.0,"y":65.3},{"s":"m","t":39.4,"y":63.6},{"s":"m","t":39.8,"y":61.1},{"s":"m","t":40.2,"y":70.3},{"s":"m","t":40.6,"y":58.3},{"s":"m","t":41.0,"y":66.1},{"s":"m","t":41.4,"y":70.1},{"s":"m","t":41.8,"y":65.0},
      {"s":"m","t":42.2,"y":62.8},{"s":"m","t":42.6,"y":74.2},
      {"s":"m","t":43.5,"y":65.6},{"s":"m","t":44,"y":74.1},{"s":"m","t":44.5,"y":70.2},{"s":"m","t":45,"y":63.3},{"s":"m","t":45.5,"y":74.5},{"s":"m","t":46,"y":70.0},{"s":"m","t":46.5,"y":78.6},{"s":"m","t":47,"y":68.0},{"s":"m","t":47.5,"y":74.9},{"s":"m","t":48,"y":70.4},
      {"s":"m","t":48.5,"y":81.1},{"s":"m","t":49,"y":74.2},{"s":"m","t":49.5,"y":69.2},{"s":"m","t":50,"y":79.9},{"s":"m","t":50.5,"y":73.7},{"s":"m","t":51,"y":79.2},{"s":"m","t":51.5,"y":69.8},{"s":"m","t":52,"y":83.0},{"s":"m","t":52.5,"y":76.6},{"s":"m","t":53,"y":81.3},
      {"s":"m","t":53.5,"y":73.6},{"s":"m","t":54,"y":79.0},{"s":"m","t":54.5,"y":85.3},{"s":"m","t":55,"y":76.0},{"s":"m","t":55.5,"y":81.2},{"s":"m","t":56,"y":81.6},{"s":"m","t":56.5,"y":77.1},{"s":"m","t":57,"y":87.1},{"s":"m","t":57.5,"y":81.6},{"s":"m","t":58,"y":76.9},
      {"s":"m","t":58.5,"y":85.3},{"s":"m","t":59,"y":81.4},{"s":"m","t":59.5,"y":88.5},{"s":"m","t":60,"y":76.0},{"s":"m","t":60.5,"y":86.2},{"s":"m","t":61,"y":81.5},{"s":"m","t":61.5,"y":88.4},{"s":"m","t":62,"y":78.5},{"s":"m","t":62.5,"y":84.3},{"s":"m","t":63,"y":92.0},
      {"s":"m","t":63.5,"y":82.1},{"s":"m","t":64,"y":87.4},{"s":"m","t":64.5,"y":81.3},{"s":"m","t":65,"y":92.7},{"s":"m","t":65.5,"y":85.0},{"s":"m","t":66,"y":90.4},{"s":"m","t":66.5,"y":80.1},{"s":"m","t":67,"y":87.9},{"s":"m","t":67.5,"y":92.7},{"s":"m","t":68,"y":85.1},
      {"s":"m","t":68.5,"y":91.0},{"s":"m","t":69,"y":83.4},{"s":"m","t":69.5,"y":88.1},{"s":"m","t":70,"y":96.6},{"s":"m","t":70.5,"y":85.2},{"s":"m","t":71,"y":91.1},{"s":"m","t":71.5,"y":82.5},{"s":"m","t":72,"y":95.1},{"s":"m","t":72.5,"y":88.3},{"s":"m","t":73,"y":94.0},
      {"s":"m","t":73.5,"y":83.1},{"s":"m","t":74,"y":91.4},{"s":"m","t":74.5,"y":97.8},{"s":"m","t":75,"y":86.8},{"s":"m","t":75.5,"y":94.3},{"s":"m","t":76,"y":88.9},{"s":"m","t":76.5,"y":100.0},{"s":"m","t":77,"y":86.2},{"s":"m","t":77.5,"y":93.9},{"s":"m","t":78,"y":89.4},
      {"s":"m","t":78.5,"y":98.6},{"s":"m","t":79,"y":93.3},{"s":"m","t":79.5,"y":87.1},{"s":"m","t":80,"y":98.0},{"s":"m","t":80.5,"y":92.8},{"s":"m","t":81,"y":87.7},{"s":"m","t":81.5,"y":99.7},{"s":"m","t":82,"y":92.3},{"s":"m","t":82.5,"y":98.3},{"s":"m","t":83,"y":87.1},
      {"s":"m","t":83.5,"y":102.1},{"s":"m","t":84,"y":94.4},{"s":"m","t":84.5,"y":99.6},{"s":"m","t":85,"y":90.5},{"s":"m","t":85.5,"y":96.3},{"s":"m","t":86,"y":103.3},{"s":"m","t":86.5,"y":92.4},{"s":"m","t":87,"y":98.1},{"s":"m","t":87.5,"y":93.6},{"s":"m","t":88,"y":102.8},
      {"s":"m","t":88.5,"y":97.7},{"s":"m","t":89,"y":89.3},{"s":"m","t":89.5,"y":101.6},{"s":"m","t":90,"y":95.8},{"s":"m","t":90.5,"y":105.1},{"s":"m","t":91,"y":92.4},{"s":"m","t":91.5,"y":99.9},{"s":"m","t":92,"y":94.2},{"s":"m","t":92.5,"y":106.1},{"s":"m","t":93,"y":97.7},
      {"s":"m","t":93.5,"y":96.8},{"s":"m","t":94,"y":102.4},{"s":"m","t":94.5,"y":91.3},{"s":"m","t":95,"y":98.1},{"s":"m","t":95.5,"y":103.8},{"s":"m","t":96,"y":94.5},{"s":"m","t":96.5,"y":99.5},{"s":"m","t":97,"y":91.6},{"s":"m","t":97.5,"y":106.4},{"s":"m","t":98,"y":95.0},
      {"s":"m","t":98.5,"y":100.8},{"s":"m","t":99,"y":93.2},{"s":"m","t":99.5,"y":105.0},{"s":"m","t":100,"y":98.6},{"s":"m","t":100.5,"y":90.1},{"s":"m","t":101,"y":101.9},{"s":"m","t":101.5,"y":96.1},{"s":"m","t":102,"y":103.5},{"s":"m","t":102.5,"y":90.7},{"s":"m","t":103,"y":99.9},
      {"s":"m","t":103.5,"y":94.0},{"s":"m","t":104,"y":106.2},{"s":"m","t":104.5,"y":97.6},{"s":"m","t":105,"y":92.4},{"s":"m","t":105.5,"y":101.5},{"s":"m","t":106,"y":105.0},{"s":"m","t":106.5,"y":93.2},{"s":"m","t":107,"y":100.8},{"s":"m","t":107.5,"y":95.0},{"s":"m","t":108,"y":106.4},
      {"s":"m","t":108.5,"y":91.6},{"s":"m","t":109,"y":99.5},{"s":"m","t":109.5,"y":94.5},{"s":"m","t":110,"y":103.8},{"s":"m","t":110.5,"y":98.1},{"s":"m","t":111,"y":91.3},{"s":"m","t":111.5,"y":102.4},{"s":"m","t":112,"y":96.8},{"s":"m","t":112.5,"y":101.5},{"s":"m","t":113,"y":92.4},
      {"s":"m","t":113.5,"y":97.6},{"s":"m","t":114,"y":106.2},{"s":"m","t":114.5,"y":94.0},{"s":"m","t":115,"y":99.9},{"s":"m","t":115.5,"y":90.7},{"s":"m","t":116,"y":103.5},{"s":"m","t":116.5,"y":96.1},{"s":"m","t":117,"y":101.9},{"s":"m","t":117.5,"y":90.1},{"s":"m","t":118,"y":98.6},
      {"s":"m","t":118.5,"y":105.9},{"s":"m","t":119,"y":93.1},{"s":"m","t":119.5,"y":100.5},{"s":"m","t":120,"y":94.7},{"s":"m","t":120.5,"y":106.5},{"s":"m","t":121,"y":98.0},{"s":"m","t":121.5,"y":91.6},{"s":"m","t":122,"y":103.4},{"s":"m","t":122.5,"y":95.8},{"s":"m","t":123,"y":101.6},
      {"s":"m","t":123.5,"y":90.2},{"s":"m","t":124,"y":105.0},{"s":"m","t":124.5,"y":97.1},{"s":"m","t":125,"y":102.1},{"s":"m","t":125.5,"y":92.8},{"s":"m","t":126,"y":98.5},{"s":"m","t":126.5,"y":105.2},{"s":"m","t":127,"y":94.0},{"s":"m","t":127.5,"y":99.5},{"s":"m","t":128,"y":94.7},
      {"s":"m","t":128.5,"y":103.7},{"s":"m","t":129,"y":98.5},{"s":"m","t":129.5,"y":89.8},{"s":"m","t":130,"y":101.9},{"s":"m","t":130.5,"y":95.9},{"s":"m","t":131,"y":97.1},{"s":"m","t":131.5,"y":105.2},{"s":"m","t":132,"y":93.9},{"s":"m","t":132.5,"y":99.4},{"s":"m","t":133,"y":92.1},
      {"s":"m","t":133.5,"y":104.3},{"s":"m","t":134,"y":95.5},{"s":"m","t":134.5,"y":101.0},{"s":"m","t":135,"y":89.3},{"s":"m","t":135.5,"y":97.5},{"s":"m","t":136,"y":102.4},{"s":"m","t":136.5,"y":93.7},{"s":"m","t":137,"y":98.0},{"s":"m","t":137.5,"y":92.6},{"s":"m","t":138,"y":103.2},
      {"s":"m","t":138.5,"y":96.6},{"s":"m","t":139,"y":91.0},{"s":"m","t":139.5,"y":99.9},{"s":"m","t":140,"y":95.0},{"s":"m","t":140.5,"y":102.4},{"s":"m","t":141,"y":88.3},{"s":"m","t":141.5,"y":99.2},{"s":"m","t":142,"y":93.5},{"s":"m","t":142.5,"y":100.7},{"s":"m","t":143,"y":89.4},
      {"s":"m","t":143.5,"y":88.4},{"s":"m","t":144,"y":100.7},{"s":"m","t":144.5,"y":93.5},{"s":"m","t":145,"y":99.0},{"s":"m","t":145.5,"y":87.8},{"s":"m","t":146,"y":95.8},{"s":"m","t":146.5,"y":101.9},{"s":"m","t":147,"y":90.7},{"s":"m","t":147.5,"y":97.8},{"s":"m","t":148,"y":92.2},
      {"s":"m","t":148.5,"y":103.0},{"s":"m","t":149,"y":88.9},{"s":"m","t":149.5,"y":96.3},{"s":"m","t":150,"y":91.6},{"s":"m","t":150.5,"y":100.4},{"s":"m","t":151,"y":94.9},{"s":"m","t":151.5,"y":88.3},{"s":"m","t":152,"y":98.9},{"s":"m","t":152.5,"y":93.5},{"s":"m","t":153,"y":97.9},
      {"s":"m","t":153.5,"y":89.2},{"s":"m","t":154,"y":94.0},{"s":"m","t":154.5,"y":102.2},{"s":"m","t":155,"y":90.4},{"s":"m","t":155.5,"y":96.0},{"s":"m","t":156,"y":94.7},{"s":"m","t":156.5,"y":86.6},{"s":"m","t":157,"y":97.7},{"s":"m","t":157.5,"y":92.2},{"s":"m","t":158,"y":99.2},
      {"s":"m","t":158.5,"y":86.9},{"s":"m","t":159,"y":95.7},{"s":"m","t":159.5,"y":90.1},{"s":"m","t":160,"y":101.7},{"s":"m","t":160.5,"y":93.4},{"s":"m","t":161,"y":88.4},{"s":"m","t":161.5,"y":97.1},{"s":"m","t":162,"y":92.6},
      {"s":"m","t":83.6,"y":107.3},{"s":"m","t":86.1,"y":109.5},{"s":"m","t":89.3,"y":112.2},{"s":"m","t":91.7,"y":108.1},{"s":"m","t":93.8,"y":112.8},{"s":"m","t":98.2,"y":109.9},{"s":"m","t":101.1,"y":110.4},{"s":"m","t":104.7,"y":108.6},{"s":"m","t":112.3,"y":108.9},{"s":"m","t":119.4,"y":109.3},
      {"s":"m","t":43.75,"y":72.4},{"s":"m","t":44.25,"y":67.3},{"s":"m","t":44.75,"y":63.8},{"s":"m","t":45.25,"y":76.0},{"s":"m","t":45.75,"y":71.7},{"s":"m","t":46.25,"y":67.3},{"s":"m","t":46.75,"y":79.3},{"s":"m","t":47.25,"y":69.9},{"s":"m","t":47.75,"y":75.0},{"s":"m","t":48.25,"y":68.5},
      {"s":"m","t":48.75,"y":78.2},{"s":"m","t":49.25,"y":74.2},{"s":"m","t":49.75,"y":81.6},{"s":"m","t":50.25,"y":68.7},{"s":"m","t":50.75,"y":78.6},{"s":"m","t":51.25,"y":73.2},{"s":"m","t":51.75,"y":82.9},{"s":"m","t":52.25,"y":76.3},{"s":"m","t":52.75,"y":71.2},{"s":"m","t":53.25,"y":71.6},
      {"s":"m","t":53.75,"y":77.5},{"s":"m","t":54.25,"y":84.9},{"s":"m","t":54.75,"y":76.1},{"s":"m","t":55.25,"y":82.2},{"s":"m","t":55.75,"y":73.1},{"s":"m","t":56.25,"y":86.9},{"s":"m","t":56.75,"y":80.3},{"s":"m","t":57.25,"y":85.2},{"s":"m","t":57.75,"y":76.3},{"s":"m","t":58.25,"y":83.6},
      {"s":"m","t":58.75,"y":79.4},{"s":"m","t":59.25,"y":89.6},{"s":"m","t":59.75,"y":78.4},{"s":"m","t":60.25,"y":83.7},{"s":"m","t":60.75,"y":89.0},{"s":"m","t":61.25,"y":77.7},{"s":"m","t":61.75,"y":82.2},{"s":"m","t":62.25,"y":88.1},{"s":"m","t":62.75,"y":81.0},{"s":"m","t":63.25,"y":86.9},
      {"s":"m","t":63.75,"y":91.4},{"s":"m","t":64.25,"y":80.1},{"s":"m","t":64.75,"y":85.3},{"s":"m","t":65.25,"y":90.6},{"s":"m","t":65.75,"y":79.4},{"s":"m","t":66.25,"y":89.6},{"s":"m","t":66.75,"y":85.3},{"s":"m","t":67.25,"y":92.6},{"s":"m","t":67.75,"y":83.7},{"s":"m","t":68.25,"y":88.5},
      {"s":"m","t":68.75,"y":81.9},{"s":"m","t":69.25,"y":95.6},{"s":"m","t":69.75,"y":86.3},{"s":"m","t":70.25,"y":92.9},{"s":"m","t":70.75,"y":82.6},{"s":"m","t":71.25,"y":91.0},{"s":"m","t":71.75,"y":97.5},{"s":"m","t":72.25,"y":97.8},{"s":"m","t":72.75,"y":91.8},{"s":"m","t":73.25,"y":83.9},
      {"s":"m","t":73.75,"y":94.8},{"s":"m","t":74.25,"y":88.3},{"s":"m","t":74.75,"y":99.6},{"s":"m","t":75.25,"y":84.3},{"s":"m","t":75.75,"y":92.6},{"s":"m","t":76.25,"y":87.6},{"s":"m","t":76.75,"y":98.4},{"s":"m","t":77.25,"y":90.6},{"s":"m","t":77.75,"y":96.1},{"s":"m","t":78.25,"y":84.9},
      {"s":"m","t":78.75,"y":98.5},{"s":"m","t":79.25,"y":92.9},{"s":"m","t":79.75,"y":87.6},{"s":"m","t":80.25,"y":101.1},{"s":"m","t":80.75,"y":96.5},{"s":"m","t":81.25,"y":90.2},{"s":"m","t":81.75,"y":88.7},{"s":"m","t":82.25,"y":99.5},{"s":"m","t":82.75,"y":94.5},{"s":"m","t":83.25,"y":102.7},
      {"s":"m","t":83.75,"y":87.4},{"s":"m","t":84.25,"y":98.6},{"s":"m","t":84.75,"y":92.1},{"s":"m","t":85.25,"y":102.8},{"s":"m","t":85.75,"y":94.9},{"s":"m","t":86.25,"y":88.8},{"s":"m","t":86.75,"y":100.9},{"s":"m","t":87.25,"y":94.5},{"s":"m","t":87.75,"y":89.9},{"s":"m","t":88.25,"y":103.3},
      {"s":"m","t":88.75,"y":97.8},{"s":"m","t":89.25,"y":92.2},{"s":"m","t":89.75,"y":105.6},{"s":"m","t":90.25,"y":94.3},{"s":"m","t":90.75,"y":99.7},{"s":"m","t":91.25,"y":103.7},{"s":"m","t":91.75,"y":93.2},{"s":"m","t":92.25,"y":98.6},{"s":"m","t":92.75,"y":90.8},{"s":"m","t":93.25,"y":106.5},
      {"s":"m","t":93.75,"y":95.7},{"s":"m","t":94.25,"y":102.8},{"s":"m","t":94.75,"y":92.3},{"s":"m","t":95.25,"y":100.4},{"s":"m","t":95.75,"y":106.7},{"s":"m","t":96.25,"y":94.8},{"s":"m","t":96.75,"y":101.3},{"s":"m","t":97.25,"y":106.1},{"s":"m","t":97.75,"y":92.8},{"s":"m","t":98.25,"y":98.4},
      {"s":"m","t":98.75,"y":104.2},{"s":"m","t":99.25,"y":90.9},{"s":"m","t":99.75,"y":102.3},{"s":"m","t":100.25,"y":97.0},{"s":"m","t":100.75,"y":101.2},{"s":"m","t":101.25,"y":95.9},{"s":"m","t":101.75,"y":107.3},{"s":"m","t":102.25,"y":94.0},{"s":"m","t":102.75,"y":99.8},{"s":"m","t":103.25,"y":105.4},
      {"s":"m","t":103.75,"y":92.1},{"s":"m","t":104.25,"y":96.9},{"s":"m","t":104.75,"y":103.4},{"s":"m","t":105.25,"y":91.5},{"s":"m","t":105.75,"y":97.8},{"s":"m","t":106.25,"y":105.9},{"s":"m","t":106.75,"y":95.3},{"s":"m","t":107.25,"y":102.0},{"s":"m","t":107.75,"y":91.0},{"s":"m","t":108.25,"y":106.5},
      {"s":"m","t":108.75,"y":98.5},{"s":"m","t":109.25,"y":103.7},{"s":"m","t":109.75,"y":93.1},{"s":"m","t":110.25,"y":97.0},{"s":"m","t":110.75,"y":102.3},{"s":"m","t":111.25,"y":90.9},{"s":"m","t":111.75,"y":104.2},{"s":"m","t":112.25,"y":98.4},{"s":"m","t":112.75,"y":92.8},{"s":"m","t":113.25,"y":106.1},
      {"s":"m","t":113.75,"y":101.3},{"s":"m","t":114.25,"y":94.8},{"s":"m","t":114.75,"y":106.7},{"s":"m","t":115.25,"y":100.4},{"s":"m","t":115.75,"y":92.3},{"s":"m","t":116.25,"y":102.9},{"s":"m","t":116.75,"y":96.2},{"s":"m","t":117.25,"y":107.2},{"s":"m","t":117.75,"y":91.7},{"s":"m","t":118.25,"y":99.7},
      {"s":"m","t":118.75,"y":94.5},{"s":"m","t":119.25,"y":105.1},{"s":"m","t":119.75,"y":94.0},{"s":"m","t":120.25,"y":107.3},{"s":"m","t":120.75,"y":95.9},{"s":"m","t":121.25,"y":101.2},{"s":"m","t":121.75,"y":93.1},{"s":"m","t":122.25,"y":103.7},{"s":"m","t":122.75,"y":98.5},{"s":"m","t":123.25,"y":106.5},
      {"s":"m","t":123.75,"y":91.0},{"s":"m","t":124.25,"y":102.0},{"s":"m","t":124.75,"y":95.3},{"s":"m","t":125.25,"y":105.9},{"s":"m","t":125.75,"y":97.8},{"s":"m","t":126.25,"y":91.5},{"s":"m","t":126.75,"y":103.2},{"s":"m","t":127.25,"y":96.6},{"s":"m","t":127.75,"y":91.4},{"s":"m","t":128.25,"y":104.5},
      {"s":"m","t":128.75,"y":98.8},{"s":"m","t":129.25,"y":102.5},{"s":"m","t":129.75,"y":89.9},{"s":"m","t":130.25,"y":100.7},{"s":"m","t":130.75,"y":95.6},{"s":"m","t":131.25,"y":103.2},{"s":"m","t":131.75,"y":93.0},{"s":"m","t":132.25,"y":98.0},{"s":"m","t":132.75,"y":90.3},{"s":"m","t":133.25,"y":104.9},
      {"s":"m","t":133.75,"y":94.4},{"s":"m","t":134.25,"y":100.7},{"s":"m","t":134.75,"y":90.6},{"s":"m","t":135.25,"y":98.2},{"s":"m","t":135.75,"y":104.2},{"s":"m","t":136.25,"y":92.8},{"s":"m","t":136.75,"y":98.9},{"s":"m","t":137.25,"y":103.4},{"s":"m","t":137.75,"y":90.6},{"s":"m","t":138.25,"y":95.7},
      {"s":"m","t":138.75,"y":97.0},{"s":"m","t":139.25,"y":102.3},{"s":"m","t":139.75,"y":89.5},{"s":"m","t":140.25,"y":94.0},{"s":"m","t":140.75,"y":100.1},{"s":"m","t":141.25,"y":88.7},{"s":"m","t":141.75,"y":94.7},{"s":"m","t":142.25,"y":102.3},{"s":"m","t":142.75,"y":92.2},{"s":"m","t":143.25,"y":98.5},
      {"s":"m","t":143.75,"y":88.0},{"s":"m","t":144.25,"y":102.6},{"s":"m","t":144.75,"y":95.0},{"s":"m","t":145.25,"y":100.0},{"s":"m","t":145.75,"y":89.8},{"s":"m","t":146.25,"y":97.5},{"s":"m","t":146.75,"y":92.4},{"s":"m","t":147.25,"y":103.2},{"s":"m","t":147.75,"y":90.6},{"s":"m","t":148.25,"y":94.6},
      {"s":"m","t":148.75,"y":89.1},{"s":"m","t":149.25,"y":101.9},{"s":"m","t":149.75,"y":97.2},{"s":"m","t":150.25,"y":91.0},{"s":"m","t":150.75,"y":102.3},{"s":"m","t":151.25,"y":96.1},{"s":"m","t":151.75,"y":88.3},{"s":"m","t":152.25,"y":98.4},{"s":"m","t":152.75,"y":91.9},{"s":"m","t":153.25,"y":102.4},
      {"s":"m","t":153.75,"y":87.6},{"s":"m","t":154.25,"y":95.2},{"s":"m","t":154.75,"y":90.1},{"s":"m","t":155.25,"y":100.2},{"s":"m","t":155.75,"y":92.4},{"s":"m","t":156.25,"y":97.5},{"s":"m","t":156.75,"y":86.5},{"s":"m","t":157.25,"y":99.1},{"s":"m","t":157.75,"y":97.0},{"s":"m","t":158.25,"y":90.6},
      {"s":"m","t":158.75,"y":100.6},{"s":"m","t":159.25,"y":92.9},{"s":"m","t":159.75,"y":86.8},{"s":"m","t":160.25,"y":98.2},{"s":"m","t":160.75,"y":91.9},{"s":"m","t":161.25,"y":87.3},{"s":"m","t":161.75,"y":100.1},

      {"s":"k","t":0.5,"y":0.1},{"s":"k","t":2.0,"y":0.0},{"s":"k","t":3.5,"y":0.2},{"s":"k","t":5.0,"y":0.1},{"s":"k","t":6.5,"y":0.2},{"s":"k","t":8.0,"y":0.1},{"s":"k","t":9.5,"y":0.3},{"s":"k","t":11.0,"y":0.2},
      {"s":"k","t":12.0,"y":0.6},{"s":"k","t":12.4,"y":0.1},{"s":"k","t":12.8,"y":0.0},{"s":"k","t":13.2,"y":0.6},{"s":"k","t":13.6,"y":0.9},{"s":"k","t":14.0,"y":0.3},{"s":"k","t":14.4,"y":0.8},{"s":"k","t":14.8,"y":1.5},{"s":"k","t":15.2,"y":1.0},{"s":"k","t":15.6,"y":1.0},
      {"s":"k","t":16.0,"y":2.4},{"s":"k","t":16.4,"y":0.2},{"s":"k","t":16.8,"y":2.9},{"s":"k","t":17.2,"y":4.2},{"s":"k","t":17.6,"y":2.3},{"s":"k","t":18.0,"y":3.5},{"s":"k","t":18.4,"y":5.4},{"s":"k","t":18.8,"y":2.0},{"s":"k","t":19.2,"y":5.8},{"s":"k","t":19.6,"y":4.7},
      {"s":"k","t":20.0,"y":9.5},{"s":"k","t":20.4,"y":5.2},{"s":"k","t":20.8,"y":8.1},{"s":"k","t":21.2,"y":10.2},{"s":"k","t":21.6,"y":6.5},{"s":"k","t":22.0,"y":11.7},{"s":"k","t":22.4,"y":10.7},{"s":"k","t":22.8,"y":15.9},{"s":"k","t":23.2,"y":12.1},{"s":"k","t":23.6,"y":10.9},
      {"s":"k","t":24.0,"y":17.7},{"s":"k","t":24.4,"y":21.5},{"s":"k","t":24.8,"y":16.3},{"s":"k","t":25.2,"y":21.1},{"s":"k","t":25.6,"y":28.8},{"s":"k","t":26.0,"y":21.2},{"s":"k","t":26.4,"y":19.1},{"s":"k","t":26.8,"y":28.5},{"s":"k","t":27.2,"y":19.7},{"s":"k","t":27.6,"y":30.9},
      {"s":"k","t":28.0,"y":36.0},{"s":"k","t":28.4,"y":28.1},{"s":"k","t":28.8,"y":32.6},{"s":"k","t":29.2,"y":39.4},{"s":"k","t":29.6,"y":30.1},{"s":"k","t":30.0,"y":38.6},{"s":"k","t":30.4,"y":36.1},{"s":"k","t":30.8,"y":48.7},{"s":"k","t":31.2,"y":36.2},{"s":"k","t":31.6,"y":43.7},
      {"s":"k","t":32.0,"y":49.0},{"s":"k","t":32.4,"y":37.6},{"s":"k","t":32.8,"y":49.8},{"s":"k","t":33.2,"y":47.2},{"s":"k","t":33.6,"y":55.6},{"s":"k","t":34.0,"y":47.9},{"s":"k","t":34.4,"y":44.4},{"s":"k","t":34.8,"y":55.5},{"s":"k","t":35.2,"y":61.2},{"s":"k","t":35.6,"y":50.8},
      {"s":"k","t":36.0,"y":58.0},{"s":"k","t":36.4,"y":67.0},{"s":"k","t":36.8,"y":57.1},{"s":"k","t":37.2,"y":53.7},{"s":"k","t":37.6,"y":64.8},{"s":"k","t":38.0,"y":52.9},{"s":"k","t":38.4,"y":65.9},{"s":"k","t":38.8,"y":71.3},{"s":"k","t":39.2,"y":60.3},{"s":"k","t":39.6,"y":64.9},
      {"s":"k","t":40.0,"y":72.4},{"s":"k","t":40.4,"y":59.7},{"s":"k","t":40.8,"y":69.4},{"s":"k","t":41.2,"y":65.3},{"s":"k","t":41.6,"y":77.9},{"s":"k","t":42.0,"y":64.7},{"s":"k","t":42.4,"y":71.7},{"s":"k","t":42.8,"y":76.1},
      {"s":"k","t":32.9,"y":62.4},{"s":"k","t":33.5,"y":70.8},{"s":"k","t":34.7,"y":66.5},{"s":"k","t":35.5,"y":69.0},{"s":"k","t":36.3,"y":75.6},{"s":"k","t":36.7,"y":81.0},{"s":"k","t":36.9,"y":73.1},{"s":"k","t":38.2,"y":77.4},{"s":"k","t":39.8,"y":79.4},
      {"s":"k","t":27.5,"y":22.0},{"s":"k","t":29.6,"y":27.2},{"s":"k","t":30.8,"y":31.4},{"s":"k","t":33.5,"y":40.2},{"s":"k","t":35.2,"y":43.8},{"s":"k","t":36.1,"y":40.5},{"s":"k","t":37.4,"y":47.1},{"s":"k","t":38.6,"y":50.3},{"s":"k","t":40.3,"y":53.6},{"s":"k","t":42.5,"y":58.2},
      {"s":"k","t":44.8,"y":62.5},{"s":"k","t":47.0,"y":66.1},{"s":"k","t":49.3,"y":57.5},{"s":"k","t":50.5,"y":69.4},
      {"s":"k","t":12.2,"y":0.2},{"s":"k","t":12.6,"y":0.7},{"s":"k","t":13.0,"y":0.0},{"s":"k","t":13.4,"y":0.6},{"s":"k","t":13.8,"y":0.3},{"s":"k","t":14.2,"y":1.3},{"s":"k","t":14.6,"y":0.5},{"s":"k","t":15.0,"y":0.9},{"s":"k","t":15.4,"y":1.6},{"s":"k","t":15.8,"y":1.6},
      {"s":"k","t":16.2,"y":1.3},{"s":"k","t":16.6,"y":3.8},{"s":"k","t":17.0,"y":1.9},{"s":"k","t":17.4,"y":3.1},{"s":"k","t":17.8,"y":4.2},{"s":"k","t":18.2,"y":2.5},{"s":"k","t":18.6,"y":3.5},{"s":"k","t":19.0,"y":7.8},{"s":"k","t":19.4,"y":5.2},{"s":"k","t":19.8,"y":7.4},
      {"s":"k","t":20.2,"y":3.5},{"s":"k","t":20.6,"y":9.9},{"s":"k","t":21.0,"y":8.3},{"s":"k","t":21.4,"y":6.8},{"s":"k","t":21.8,"y":14.6},{"s":"k","t":22.2,"y":9.4},{"s":"k","t":22.6,"y":15.0},{"s":"k","t":23.0,"y":9.1},{"s":"k","t":23.4,"y":15.7},{"s":"k","t":23.8,"y":15.8},
      {"s":"k","t":24.2,"y":20.7},{"s":"k","t":24.6,"y":13.6},{"s":"k","t":25.0,"y":21.7},{"s":"k","t":25.4,"y":17.8},{"s":"k","t":25.8,"y":29.5},{"s":"k","t":26.2,"y":19.3},{"s":"k","t":26.6,"y":23.5},{"s":"k","t":27.0,"y":30.8},{"s":"k","t":27.4,"y":28.7},{"s":"k","t":27.8,"y":22.7},
      {"s":"k","t":28.2,"y":37.4},{"s":"k","t":28.6,"y":29.9},{"s":"k","t":29.0,"y":34.6},{"s":"k","t":29.4,"y":38.5},{"s":"k","t":29.8,"y":31.0},{"s":"k","t":30.2,"y":34.5},{"s":"k","t":30.6,"y":45.8},{"s":"k","t":31.0,"y":39.9},{"s":"k","t":31.4,"y":45.8},{"s":"k","t":31.8,"y":34.5},
      {"s":"k","t":32.2,"y":52.0},{"s":"k","t":32.6,"y":47.0},{"s":"k","t":33.0,"y":42.1},{"s":"k","t":33.4,"y":58.0},{"s":"k","t":33.8,"y":47.8},{"s":"k","t":34.2,"y":56.9},{"s":"k","t":34.6,"y":45.3},{"s":"k","t":35.0,"y":56.0},{"s":"k","t":35.4,"y":54.9},{"s":"k","t":35.8,"y":62.8},
      {"s":"k","t":36.2,"y":48.9},{"s":"k","t":36.6,"y":61.1},{"s":"k","t":37.0,"y":55.7},{"s":"k","t":37.4,"y":69.7},{"s":"k","t":37.8,"y":56.2},{"s":"k","t":38.2,"y":60.8},{"s":"k","t":38.6,"y":69.1},{"s":"k","t":39.0,"y":65.5},{"s":"k","t":39.4,"y":56.9},{"s":"k","t":39.8,"y":74.2},
      {"s":"k","t":40.2,"y":63.7},{"s":"k","t":40.6,"y":68.5},{"s":"k","t":41.0,"y":72.4},{"s":"k","t":41.4,"y":62.0},{"s":"k","t":41.8,"y":65.3},{"s":"k","t":42.2,"y":78.4},{"s":"k","t":42.6,"y":70.2},
      {"s":"k","t":43.5,"y":78.3},{"s":"k","t":44,"y":69.9},{"s":"k","t":44.5,"y":65.7},{"s":"k","t":45,"y":76.0},{"s":"k","t":45.5,"y":80.9},{"s":"k","t":46,"y":69.8},{"s":"k","t":46.5,"y":76.1},{"s":"k","t":47,"y":84.5},{"s":"k","t":47.5,"y":73.8},{"s":"k","t":48,"y":69.8},
      {"s":"k","t":48.5,"y":80.3},{"s":"k","t":49,"y":67.7},{"s":"k","t":49.5,"y":80.0},{"s":"k","t":50,"y":84.8},{"s":"k","t":50.5,"y":73.2},{"s":"k","t":51,"y":77.3},{"s":"k","t":51.5,"y":84.1},{"s":"k","t":52,"y":70.8},{"s":"k","t":52.5,"y":79.9},{"s":"k","t":53,"y":75.2},
      {"s":"k","t":53.5,"y":87.2},{"s":"k","t":54,"y":73.5},{"s":"k","t":54.5,"y":79.8},{"s":"k","t":55,"y":83.9},{"s":"k","t":55.5,"y":71.3},{"s":"k","t":56,"y":82.3},{"s":"k","t":56.5,"y":78.6},{"s":"k","t":57,"y":78.8},{"s":"k","t":57.5,"y":82.8},{"s":"k","t":58,"y":72.2},
      {"s":"k","t":58.5,"y":85.2},{"s":"k","t":59,"y":81.5},{"s":"k","t":59.5,"y":75.5},{"s":"k","t":60,"y":89.6},{"s":"k","t":60.5,"y":77.9},{"s":"k","t":61,"y":83.0},{"s":"k","t":61.5,"y":74.2},{"s":"k","t":62,"y":87.9},{"s":"k","t":62.5,"y":81.4},{"s":"k","t":63,"y":77.8},
      {"s":"k","t":63.5,"y":89.7},{"s":"k","t":64,"y":85.4},{"s":"k","t":64.5,"y":73.4},{"s":"k","t":65,"y":86.5},{"s":"k","t":65.5,"y":76.4},{"s":"k","t":66,"y":81.0},{"s":"k","t":66.5,"y":92.1},{"s":"k","t":67,"y":84.3},{"s":"k","t":67.5,"y":78.4},{"s":"k","t":68,"y":90.2},
      {"s":"k","t":68.5,"y":85.8},{"s":"k","t":69,"y":76.1},{"s":"k","t":69.5,"y":80.9},{"s":"k","t":70,"y":90.0},{"s":"k","t":70.5,"y":79.0},{"s":"k","t":71,"y":87.4},{"s":"k","t":71.5,"y":91.7},{"s":"k","t":72,"y":82.7},{"s":"k","t":72.5,"y":78.7},{"s":"k","t":73,"y":89.5},
      {"s":"k","t":73.5,"y":84.1},{"s":"k","t":74,"y":76.9},{"s":"k","t":74.5,"y":87.1},{"s":"k","t":75,"y":91.3},{"s":"k","t":75.5,"y":82.0},{"s":"k","t":76,"y":94.0},{"s":"k","t":76.5,"y":82.9},{"s":"k","t":77,"y":78.9},{"s":"k","t":77.5,"y":89.8},{"s":"k","t":78,"y":86.5},
      {"s":"k","t":78.5,"y":80.4},{"s":"k","t":79,"y":92.9},{"s":"k","t":79.5,"y":84.8},{"s":"k","t":80,"y":89.4},{"s":"k","t":80.5,"y":78.7},{"s":"k","t":81,"y":91.5},{"s":"k","t":81.5,"y":85.9},{"s":"k","t":82,"y":82.5},{"s":"k","t":82.5,"y":94.3},{"s":"k","t":83,"y":84.5},
      {"s":"k","t":83.5,"y":88.1},{"s":"k","t":84,"y":93.8},{"s":"k","t":84.5,"y":83.1},{"s":"k","t":85,"y":86.5},{"s":"k","t":85.5,"y":92.7},{"s":"k","t":86,"y":80.3},{"s":"k","t":86.5,"y":88.6},{"s":"k","t":87,"y":84.2},{"s":"k","t":87.5,"y":95.0},{"s":"k","t":88,"y":82.3},
      {"s":"k","t":88.5,"y":88.0},{"s":"k","t":89,"y":91.6},{"s":"k","t":89.5,"y":79.9},{"s":"k","t":90,"y":89.9},{"s":"k","t":90.5,"y":86.3},{"s":"k","t":91,"y":93.0},{"s":"k","t":91.5,"y":84.8},{"s":"k","t":92,"y":80.7},{"s":"k","t":92.5,"y":89.8},{"s":"k","t":93,"y":93.9},
      {"s":"k","t":93.5,"y":83.3},{"s":"k","t":94,"y":88.8},{"s":"k","t":94.5,"y":96.3},{"s":"k","t":95,"y":86.2},{"s":"k","t":95.5,"y":82.2},{"s":"k","t":96,"y":91.7},{"s":"k","t":96.5,"y":79.8},{"s":"k","t":97,"y":91.0},{"s":"k","t":97.5,"y":89.8},{"s":"k","t":98,"y":86.2},
      {"s":"k","t":98.5,"y":96.1},{"s":"k","t":99,"y":84.4},{"s":"k","t":99.5,"y":87.9},{"s":"k","t":100,"y":93.6},{"s":"k","t":100.5,"y":80.8},{"s":"k","t":101,"y":91.6},{"s":"k","t":101.5,"y":87.1},{"s":"k","t":102,"y":95.3},{"s":"k","t":102.5,"y":82.9},{"s":"k","t":103,"y":89.0},
      {"s":"k","t":103.5,"y":92.4},{"s":"k","t":104,"y":81.6},{"s":"k","t":104.5,"y":85.7},{"s":"k","t":105,"y":96.9},{"s":"k","t":105.5,"y":85.0},{"s":"k","t":106,"y":94.4},{"s":"k","t":106.5,"y":90.3},{"s":"k","t":107,"y":80.2},{"s":"k","t":107.5,"y":87.6},{"s":"k","t":108,"y":93.1},
      {"s":"k","t":108.5,"y":82.4},{"s":"k","t":109,"y":86.5},{"s":"k","t":109.5,"y":95.6},{"s":"k","t":110,"y":91.4},{"s":"k","t":110.5,"y":83.2},{"s":"k","t":111,"y":81.9},{"s":"k","t":111.5,"y":92.7},{"s":"k","t":112,"y":89.3},{"s":"k","t":112.5,"y":83.2},{"s":"k","t":113,"y":95.6},
      {"s":"k","t":113.5,"y":87.4},{"s":"k","t":114,"y":91.9},{"s":"k","t":114.5,"y":81.1},{"s":"k","t":115,"y":93.9},{"s":"k","t":115.5,"y":88.2},{"s":"k","t":116,"y":84.7},{"s":"k","t":116.5,"y":96.4},{"s":"k","t":117,"y":86.5},{"s":"k","t":117.5,"y":90.1},{"s":"k","t":118,"y":83.5},
      {"s":"k","t":118.5,"y":91.7},{"s":"k","t":119,"y":95.9},{"s":"k","t":119.5,"y":86.8},{"s":"k","t":120,"y":82.7},{"s":"k","t":120.5,"y":93.4},{"s":"k","t":121,"y":87.9},{"s":"k","t":121.5,"y":80.5},{"s":"k","t":122,"y":90.6},{"s":"k","t":122.5,"y":94.7},{"s":"k","t":123,"y":85.3},
      {"s":"k","t":123.5,"y":97.2},{"s":"k","t":124,"y":86.0},{"s":"k","t":124.5,"y":96.8},{"s":"k","t":125,"y":86.7},{"s":"k","t":125.5,"y":82.6},{"s":"k","t":126,"y":92.0},{"s":"k","t":126.5,"y":80.1},{"s":"k","t":127,"y":91.3},{"s":"k","t":127.5,"y":95.4},{"s":"k","t":128,"y":84.6},
      {"s":"k","t":128.5,"y":88.0},{"s":"k","t":129,"y":94.1},{"s":"k","t":129.5,"y":81.7},{"s":"k","t":130,"y":89.9},{"s":"k","t":130.5,"y":85.4},{"s":"k","t":131,"y":96.2},{"s":"k","t":131.5,"y":83.4},{"s":"k","t":132,"y":89.1},{"s":"k","t":132.5,"y":92.6},{"s":"k","t":133,"y":80.9},
      {"s":"k","t":133.5,"y":90.8},{"s":"k","t":134,"y":87.2},{"s":"k","t":134.5,"y":93.8},{"s":"k","t":135,"y":85.6},{"s":"k","t":135.5,"y":81.4},{"s":"k","t":136,"y":90.5},{"s":"k","t":136.5,"y":94.6},{"s":"k","t":137,"y":83.9},{"s":"k","t":137.5,"y":89.4},{"s":"k","t":138,"y":91.0},
      {"s":"k","t":138.5,"y":79.8},{"s":"k","t":139,"y":91.7},{"s":"k","t":139.5,"y":82.3},{"s":"k","t":140,"y":86.4},{"s":"k","t":140.5,"y":96.5},{"s":"k","t":141,"y":89.1},{"s":"k","t":141.5,"y":83.6},{"s":"k","t":142,"y":94.3},{"s":"k","t":142.5,"y":90.2},{"s":"k","t":143,"y":81.1},
      {"s":"k","t":143.5,"y":85.3},{"s":"k","t":144,"y":93.5},{"s":"k","t":144.5,"y":86.9},{"s":"k","t":145,"y":90.5},{"s":"k","t":145.5,"y":80.6},{"s":"k","t":146,"y":92.3},{"s":"k","t":146.5,"y":88.8},{"s":"k","t":147,"y":83.1},{"s":"k","t":147.5,"y":95.9},{"s":"k","t":148,"y":85.1},
      {"s":"k","t":148.5,"y":89.6},{"s":"k","t":149,"y":81.4},{"s":"k","t":149.5,"y":93.8},{"s":"k","t":150,"y":87.7},{"s":"k","t":150.5,"y":84.3},{"s":"k","t":151,"y":95.1},{"s":"k","t":151.5,"y":79.5},{"s":"k","t":152,"y":89.6},{"s":"k","t":152.5,"y":93.7},{"s":"k","t":153,"y":84.3},
      {"s":"k","t":153.5,"y":96.2},{"s":"k","t":154,"y":85.0},{"s":"k","t":154.5,"y":80.9},{"s":"k","t":155,"y":91.7},{"s":"k","t":155.5,"y":88.3},{"s":"k","t":156,"y":82.2},{"s":"k","t":156.5,"y":94.6},{"s":"k","t":157,"y":86.4},{"s":"k","t":157.5,"y":90.9},{"s":"k","t":158,"y":80.1},
      {"s":"k","t":158.5,"y":92.9},{"s":"k","t":159,"y":87.2},{"s":"k","t":159.5,"y":83.7},{"s":"k","t":160,"y":95.4},{"s":"k","t":160.5,"y":85.5},{"s":"k","t":161,"y":89.1},{"s":"k","t":161.5,"y":82.5},{"s":"k","t":162,"y":90.7},
      {"s":"k","t":43.75,"y":66.1},{"s":"k","t":44.25,"y":76.1},{"s":"k","t":44.75,"y":82.3},{"s":"k","t":45.25,"y":73.1},{"s":"k","t":45.75,"y":69.6},{"s":"k","t":46.25,"y":81.0},{"s":"k","t":46.75,"y":66.4},{"s":"k","t":47.25,"y":77.4},{"s":"k","t":47.75,"y":79.9},{"s":"k","t":48.25,"y":73.0},
      {"s":"k","t":48.75,"y":83.7},{"s":"k","t":49.25,"y":69.0},{"s":"k","t":49.75,"y":77.3},{"s":"k","t":50.25,"y":86.5},{"s":"k","t":50.75,"y":71.9},{"s":"k","t":51.25,"y":81.4},{"s":"k","t":51.75,"y":76.2},{"s":"k","t":52.25,"y":84.6},{"s":"k","t":52.75,"y":70.0},{"s":"k","t":53.25,"y":81.1},
      {"s":"k","t":53.75,"y":75.1},{"s":"k","t":54.25,"y":84.2},{"s":"k","t":54.75,"y":78.8},{"s":"k","t":55.25,"y":79.0},{"s":"k","t":55.75,"y":84.8},{"s":"k","t":56.25,"y":76.1},{"s":"k","t":56.75,"y":82.5},{"s":"k","t":57.25,"y":71.8},{"s":"k","t":57.75,"y":86.7},{"s":"k","t":58.25,"y":78.7},
      {"s":"k","t":58.75,"y":84.3},{"s":"k","t":59.25,"y":75.2},{"s":"k","t":59.75,"y":90.2},{"s":"k","t":60.25,"y":81.4},{"s":"k","t":60.75,"y":73.5},{"s":"k","t":61.25,"y":88.7},{"s":"k","t":61.75,"y":78.4},{"s":"k","t":62.25,"y":85.8},{"s":"k","t":62.75,"y":83.8},{"s":"k","t":63.25,"y":73.3},
      {"s":"k","t":63.75,"y":88.3},{"s":"k","t":64.25,"y":77.6},{"s":"k","t":64.75,"y":81.6},{"s":"k","t":65.25,"y":91.4},{"s":"k","t":65.75,"y":85.7},{"s":"k","t":66.25,"y":76.3},{"s":"k","t":66.75,"y":90.0},{"s":"k","t":67.25,"y":80.6},{"s":"k","t":67.75,"y":74.9},{"s":"k","t":68.25,"y":84.7},
      {"s":"k","t":68.75,"y":88.7},{"s":"k","t":69.25,"y":78.0},{"s":"k","t":69.75,"y":93.0},{"s":"k","t":70.25,"y":82.5},{"s":"k","t":70.75,"y":80.5},{"s":"k","t":71.25,"y":87.9},{"s":"k","t":71.75,"y":77.6},{"s":"k","t":72.25,"y":92.7},{"s":"k","t":72.75,"y":84.8},{"s":"k","t":73.25,"y":75.9},
      {"s":"k","t":73.75,"y":90.9},{"s":"k","t":74.25,"y":81.7},{"s":"k","t":74.75,"y":87.2},{"s":"k","t":75.25,"y":79.1},{"s":"k","t":75.75,"y":94.0},{"s":"k","t":76.25,"y":83.2},{"s":"k","t":76.75,"y":89.5},{"s":"k","t":77.25,"y":80.7},{"s":"k","t":77.75,"y":86.4},{"s":"k","t":78.25,"y":86.5},
      {"s":"k","t":78.75,"y":81.4},{"s":"k","t":79.25,"y":89.6},{"s":"k","t":79.75,"y":84.0},{"s":"k","t":80.25,"y":94.1},{"s":"k","t":80.75,"y":80.6},{"s":"k","t":81.25,"y":88.2},{"s":"k","t":81.75,"y":83.3},{"s":"k","t":82.25,"y":91.9},{"s":"k","t":82.75,"y":78.3},{"s":"k","t":83.25,"y":86.7},
      {"s":"k","t":83.75,"y":94.0},{"s":"k","t":84.25,"y":80.3},{"s":"k","t":84.75,"y":90.0},{"s":"k","t":85.25,"y":83.4},{"s":"k","t":85.75,"y":85.5},{"s":"k","t":86.25,"y":95.3},{"s":"k","t":86.75,"y":81.7},{"s":"k","t":87.25,"y":91.8},{"s":"k","t":87.75,"y":88.2},{"s":"k","t":88.25,"y":79.5},
      {"s":"k","t":88.75,"y":84.9},{"s":"k","t":89.25,"y":93.7},{"s":"k","t":89.75,"y":80.4},{"s":"k","t":90.25,"y":87.8},{"s":"k","t":90.75,"y":96.2},{"s":"k","t":91.25,"y":82.6},{"s":"k","t":91.75,"y":91.2},{"s":"k","t":92.25,"y":86.4},{"s":"k","t":92.75,"y":94.0},{"s":"k","t":93.25,"y":80.5},
      {"s":"k","t":93.75,"y":90.6},{"s":"k","t":94.25,"y":85.0},{"s":"k","t":94.75,"y":93.3},{"s":"k","t":95.25,"y":88.2},{"s":"k","t":95.75,"y":82.6},{"s":"k","t":96.25,"y":91.4},{"s":"k","t":96.75,"y":96.9},{"s":"k","t":97.25,"y":88.1},{"s":"k","t":97.75,"y":84.5},{"s":"k","t":98.25,"y":94.5},
      {"s":"k","t":98.75,"y":80.8},{"s":"k","t":99.25,"y":90.6},{"s":"k","t":99.75,"y":92.6},{"s":"k","t":100.25,"y":86.0},{"s":"k","t":100.75,"y":95.6},{"s":"k","t":101.25,"y":96.2},{"s":"k","t":101.75,"y":88.9},{"s":"k","t":102.25,"y":80.6},{"s":"k","t":102.75,"y":94.3},{"s":"k","t":103.25,"y":85.8},
      {"s":"k","t":103.75,"y":90.7},{"s":"k","t":104.25,"y":83.2},{"s":"k","t":104.75,"y":96.8},{"s":"k","t":105.25,"y":86.8},{"s":"k","t":105.75,"y":92.5},{"s":"k","t":106.25,"y":84.3},{"s":"k","t":106.75,"y":89.5},{"s":"k","t":107.25,"y":95.2},{"s":"k","t":107.75,"y":86.5},{"s":"k","t":108.25,"y":81.1},
      {"s":"k","t":108.75,"y":89.9},{"s":"k","t":109.25,"y":93.5},{"s":"k","t":109.75,"y":83.5},{"s":"k","t":110.25,"y":97.2},{"s":"k","t":110.75,"y":87.4},{"s":"k","t":111.25,"y":85.4},{"s":"k","t":111.75,"y":92.0},{"s":"k","t":112.25,"y":82.4},{"s":"k","t":112.75,"y":95.6},{"s":"k","t":113.25,"y":86.0},
      {"s":"k","t":113.75,"y":92.6},{"s":"k","t":114.25,"y":90.6},{"s":"k","t":114.75,"y":80.8},{"s":"k","t":115.25,"y":94.5},{"s":"k","t":115.75,"y":84.5},{"s":"k","t":116.25,"y":88.1},{"s":"k","t":116.75,"y":96.9},{"s":"k","t":117.25,"y":91.5},{"s":"k","t":117.75,"y":82.8},{"s":"k","t":118.25,"y":88.5},
      {"s":"k","t":118.75,"y":93.7},{"s":"k","t":119.25,"y":85.5},{"s":"k","t":119.75,"y":91.2},{"s":"k","t":120.25,"y":81.2},{"s":"k","t":120.75,"y":94.8},{"s":"k","t":121.25,"y":87.3},{"s":"k","t":121.75,"y":92.2},{"s":"k","t":122.25,"y":83.7},{"s":"k","t":122.75,"y":97.4},{"s":"k","t":123.25,"y":89.1},
      {"s":"k","t":123.75,"y":81.8},{"s":"k","t":124.25,"y":82.2},{"s":"k","t":124.75,"y":91.8},{"s":"k","t":125.25,"y":85.2},{"s":"k","t":125.75,"y":87.2},{"s":"k","t":126.25,"y":97.0},{"s":"k","t":126.75,"y":83.3},{"s":"k","t":127.25,"y":93.3},{"s":"k","t":127.75,"y":89.7},{"s":"k","t":128.25,"y":80.9},
      {"s":"k","t":128.75,"y":86.3},{"s":"k","t":129.25,"y":95.0},{"s":"k","t":129.75,"y":89.3},{"s":"k","t":130.25,"y":84.0},{"s":"k","t":130.75,"y":92.1},{"s":"k","t":131.25,"y":86.4},{"s":"k","t":131.75,"y":96.3},{"s":"k","t":132.25,"y":82.8},{"s":"k","t":132.75,"y":90.2},{"s":"k","t":133.25,"y":85.3},
      {"s":"k","t":133.75,"y":93.8},{"s":"k","t":134.25,"y":80.1},{"s":"k","t":134.75,"y":88.3},{"s":"k","t":135.25,"y":95.6},{"s":"k","t":135.75,"y":80.1},{"s":"k","t":136.25,"y":89.9},{"s":"k","t":136.75,"y":91.9},{"s":"k","t":137.25,"y":85.3},{"s":"k","t":137.75,"y":94.9},{"s":"k","t":138.25,"y":81.1},
      {"s":"k","t":138.75,"y":88.3},{"s":"k","t":139.25,"y":96.6},{"s":"k","t":139.75,"y":82.9},{"s":"k","t":140.25,"y":91.4},{"s":"k","t":140.75,"y":86.5},{"s":"k","t":141.25,"y":94.0},{"s":"k","t":141.75,"y":80.4},{"s":"k","t":142.25,"y":90.4},{"s":"k","t":142.75,"y":84.7},{"s":"k","t":143.25,"y":92.9},
      {"s":"k","t":143.75,"y":87.6},{"s":"k","t":144.25,"y":81.9},{"s":"k","t":144.75,"y":90.6},{"s":"k","t":145.25,"y":96.0},{"s":"k","t":145.75,"y":87.1},{"s":"k","t":146.25,"y":83.5},{"s":"k","t":146.75,"y":93.5},{"s":"k","t":147.25,"y":96.2},{"s":"k","t":147.75,"y":86.4},{"s":"k","t":148.25,"y":84.4},
      {"s":"k","t":148.75,"y":91.0},{"s":"k","t":149.25,"y":81.4},{"s":"k","t":149.75,"y":95.2},{"s":"k","t":150.25,"y":87.9},{"s":"k","t":150.75,"y":79.6},{"s":"k","t":151.25,"y":93.2},{"s":"k","t":151.75,"y":84.7},{"s":"k","t":152.25,"y":89.6},{"s":"k","t":152.75,"y":82.1},{"s":"k","t":153.25,"y":95.7},
      {"s":"k","t":153.75,"y":85.7},{"s":"k","t":154.25,"y":91.3},{"s":"k","t":154.75,"y":83.1},{"s":"k","t":155.25,"y":88.3},{"s":"k","t":155.75,"y":94.0},{"s":"k","t":156.25,"y":85.3},{"s":"k","t":156.75,"y":79.9},{"s":"k","t":157.25,"y":88.6},{"s":"k","t":157.75,"y":92.2},{"s":"k","t":158.25,"y":82.2},
      {"s":"k","t":158.75,"y":81.4},{"s":"k","t":159.25,"y":90.1},{"s":"k","t":159.75,"y":95.5},{"s":"k","t":160.25,"y":86.7},{"s":"k","t":160.75,"y":83.1},{"s":"k","t":161.25,"y":93.1},{"s":"k","t":161.75,"y":79.4},
      {"s":"k","t":54.8,"y":92.3},{"s":"k","t":56.5,"y":94.6},{"s":"k","t":58.7,"y":96.1},{"s":"k","t":61.2,"y":97.3},{"s":"k","t":63.4,"y":95.2},{"s":"k","t":64.0,"y":103.3},{"s":"k","t":65.9,"y":98.4},{"s":"k","t":67.8,"y":96.8},{"s":"k","t":69.5,"y":99.1},{"s":"k","t":75.7,"y":63.2},
      {"s":"k","t":82.0,"y":108.0},{"s":"k","t":88.8,"y":74.7},{"s":"k","t":94.6,"y":75.4},{"s":"k","t":101.9,"y":110.9},{"s":"k","t":140.4,"y":74.0},{"s":"k","t":141.2,"y":107.6}
    ],
    "neg": [
      {"r":1,"t":0,"y":0},{"r":1,"t":20,"y":0.05},{"r":1,"t":40,"y":0.1},{"r":1,"t":60,"y":0.15},{"r":1,"t":80,"y":0.2},{"r":1,"t":100,"y":0.3},{"r":1,"t":120,"y":0.45},{"r":1,"t":130,"y":0.6},{"r":1,"t":140,"y":0.8},{"r":1,"t":150,"y":1.15},{"r":1,"t":156,"y":1.5},{"r":1,"t":162,"y":1.9},
      {"r":2,"t":0,"y":0},{"r":2,"t":20,"y":0},{"r":2,"t":40,"y":0.05},{"r":2,"t":60,"y":0.1},{"r":2,"t":80,"y":0.15},{"r":2,"t":100,"y":0.2},{"r":2,"t":120,"y":0.3},{"r":2,"t":130,"y":0.4},{"r":2,"t":140,"y":0.55},{"r":2,"t":150,"y":0.75},{"r":2,"t":156,"y":0.95},{"r":2,"t":162,"y":1.15}
    ]
  },
  "layer": [
    {
      "data": {"name": "pts"},
      "mark": {"type": "point", "shape": "square", "filled": true, "size": 16, "opacity": 1, "strokeWidth": 0, "clip": true},
      "encoding": {
        "x": {
          "field": "t", "type": "quantitative",
          "scale": {"domain": [0, 168], "nice": false, "zero": false},
          "axis": {
            "title": "Tiempo (horas)",
            "values": [0, 12, 24, 36, 48, 60, 72, 84, 96, 108, 120, 132, 144, 156, 168],
            "labelExpr": "datum.value % 24 === 0 ? datum.label : ''",
            "tickSize": {"condition": {"test": "datum.value % 24 === 0", "value": 8}, "value": 5},
            "grid": false,
            "domainColor": "#000", "domainWidth": 2,
            "tickColor": "#000", "tickWidth": 1.5,
            "labelFont": "Liberation Serif", "labelFontSize": 20, "labelColor": "#222", "labelPadding": 9,
            "labelFlush": false,
            "titleFont": "Liberation Serif", "titleFontSize": 25, "titleFontWeight": "normal", "titleColor": "#222", "titlePadding": 9
          }
        },
        "y": {
          "field": "y", "type": "quantitative",
          "scale": {"domain": [0, 120], "nice": false},
          "axis": {
            "title": "% Fibras",
            "values": [0, 5, 10, 15, 20, 25, 30, 35, 40, 45, 50, 55, 60, 65, 70, 75, 80, 85, 90, 95, 100, 105, 110, 115, 120],
            "labelExpr": "datum.value % 10 === 0 ? datum.label : ''",
            "tickSize": {"condition": {"test": "datum.value % 10 === 0", "value": 8}, "value": 5},
            "grid": false,
            "domainColor": "#000", "domainWidth": 2,
            "tickColor": "#000", "tickWidth": 1.5,
            "labelFont": "Liberation Serif", "labelFontSize": 20, "labelColor": "#222", "labelPadding": 8,
            "labelFlush": false,
            "titleFont": "Liberation Serif", "titleFontSize": 25, "titleFontWeight": "normal", "titleColor": "#222", "titlePadding": 30
          }
        },
        "color": {
          "field": "s", "type": "nominal",
          "scale": {"domain": ["g", "m", "k", "r"], "range": ["#00ff00", "#ff00ff", "#000000", "#ff0000"]},
          "legend": {
            "title": null,
            "orient": "none", "legendX": 456, "legendY": 370,
            "direction": "vertical",
            "symbolType": "square", "symbolSize": 12, "symbolStrokeWidth": 0,
            "labelFont": "Liberation Serif", "labelFontSize": 16, "labelColor": "#222", "labelLimit": 240,
            "labelExpr": "datum.value === 'g' ? 'SynuClean-D 100 µM' : datum.value === 'm' ? 'SynuClean-D 50 µM' : datum.value === 'k' ? '(+) α−sinucleina 50 µM' : '(-) α−sinucleina 50 µM'",
            "strokeColor": "#7f7f7f", "fillColor": "#ffffff",
            "padding": 5, "rowPadding": 9.5, "symbolOffset": 20, "labelOffset": 22
          }
        }
      }
    },
    {
      "data": {"name": "neg"},
      "mark": {"type": "line", "color": "#ff0000", "strokeWidth": 2.5, "clip": false},
      "encoding": {
        "x": {"field": "t", "type": "quantitative"},
        "y": {"field": "y", "type": "quantitative"},
        "detail": {"field": "r", "type": "nominal"}
      }
    }
  ]
}
